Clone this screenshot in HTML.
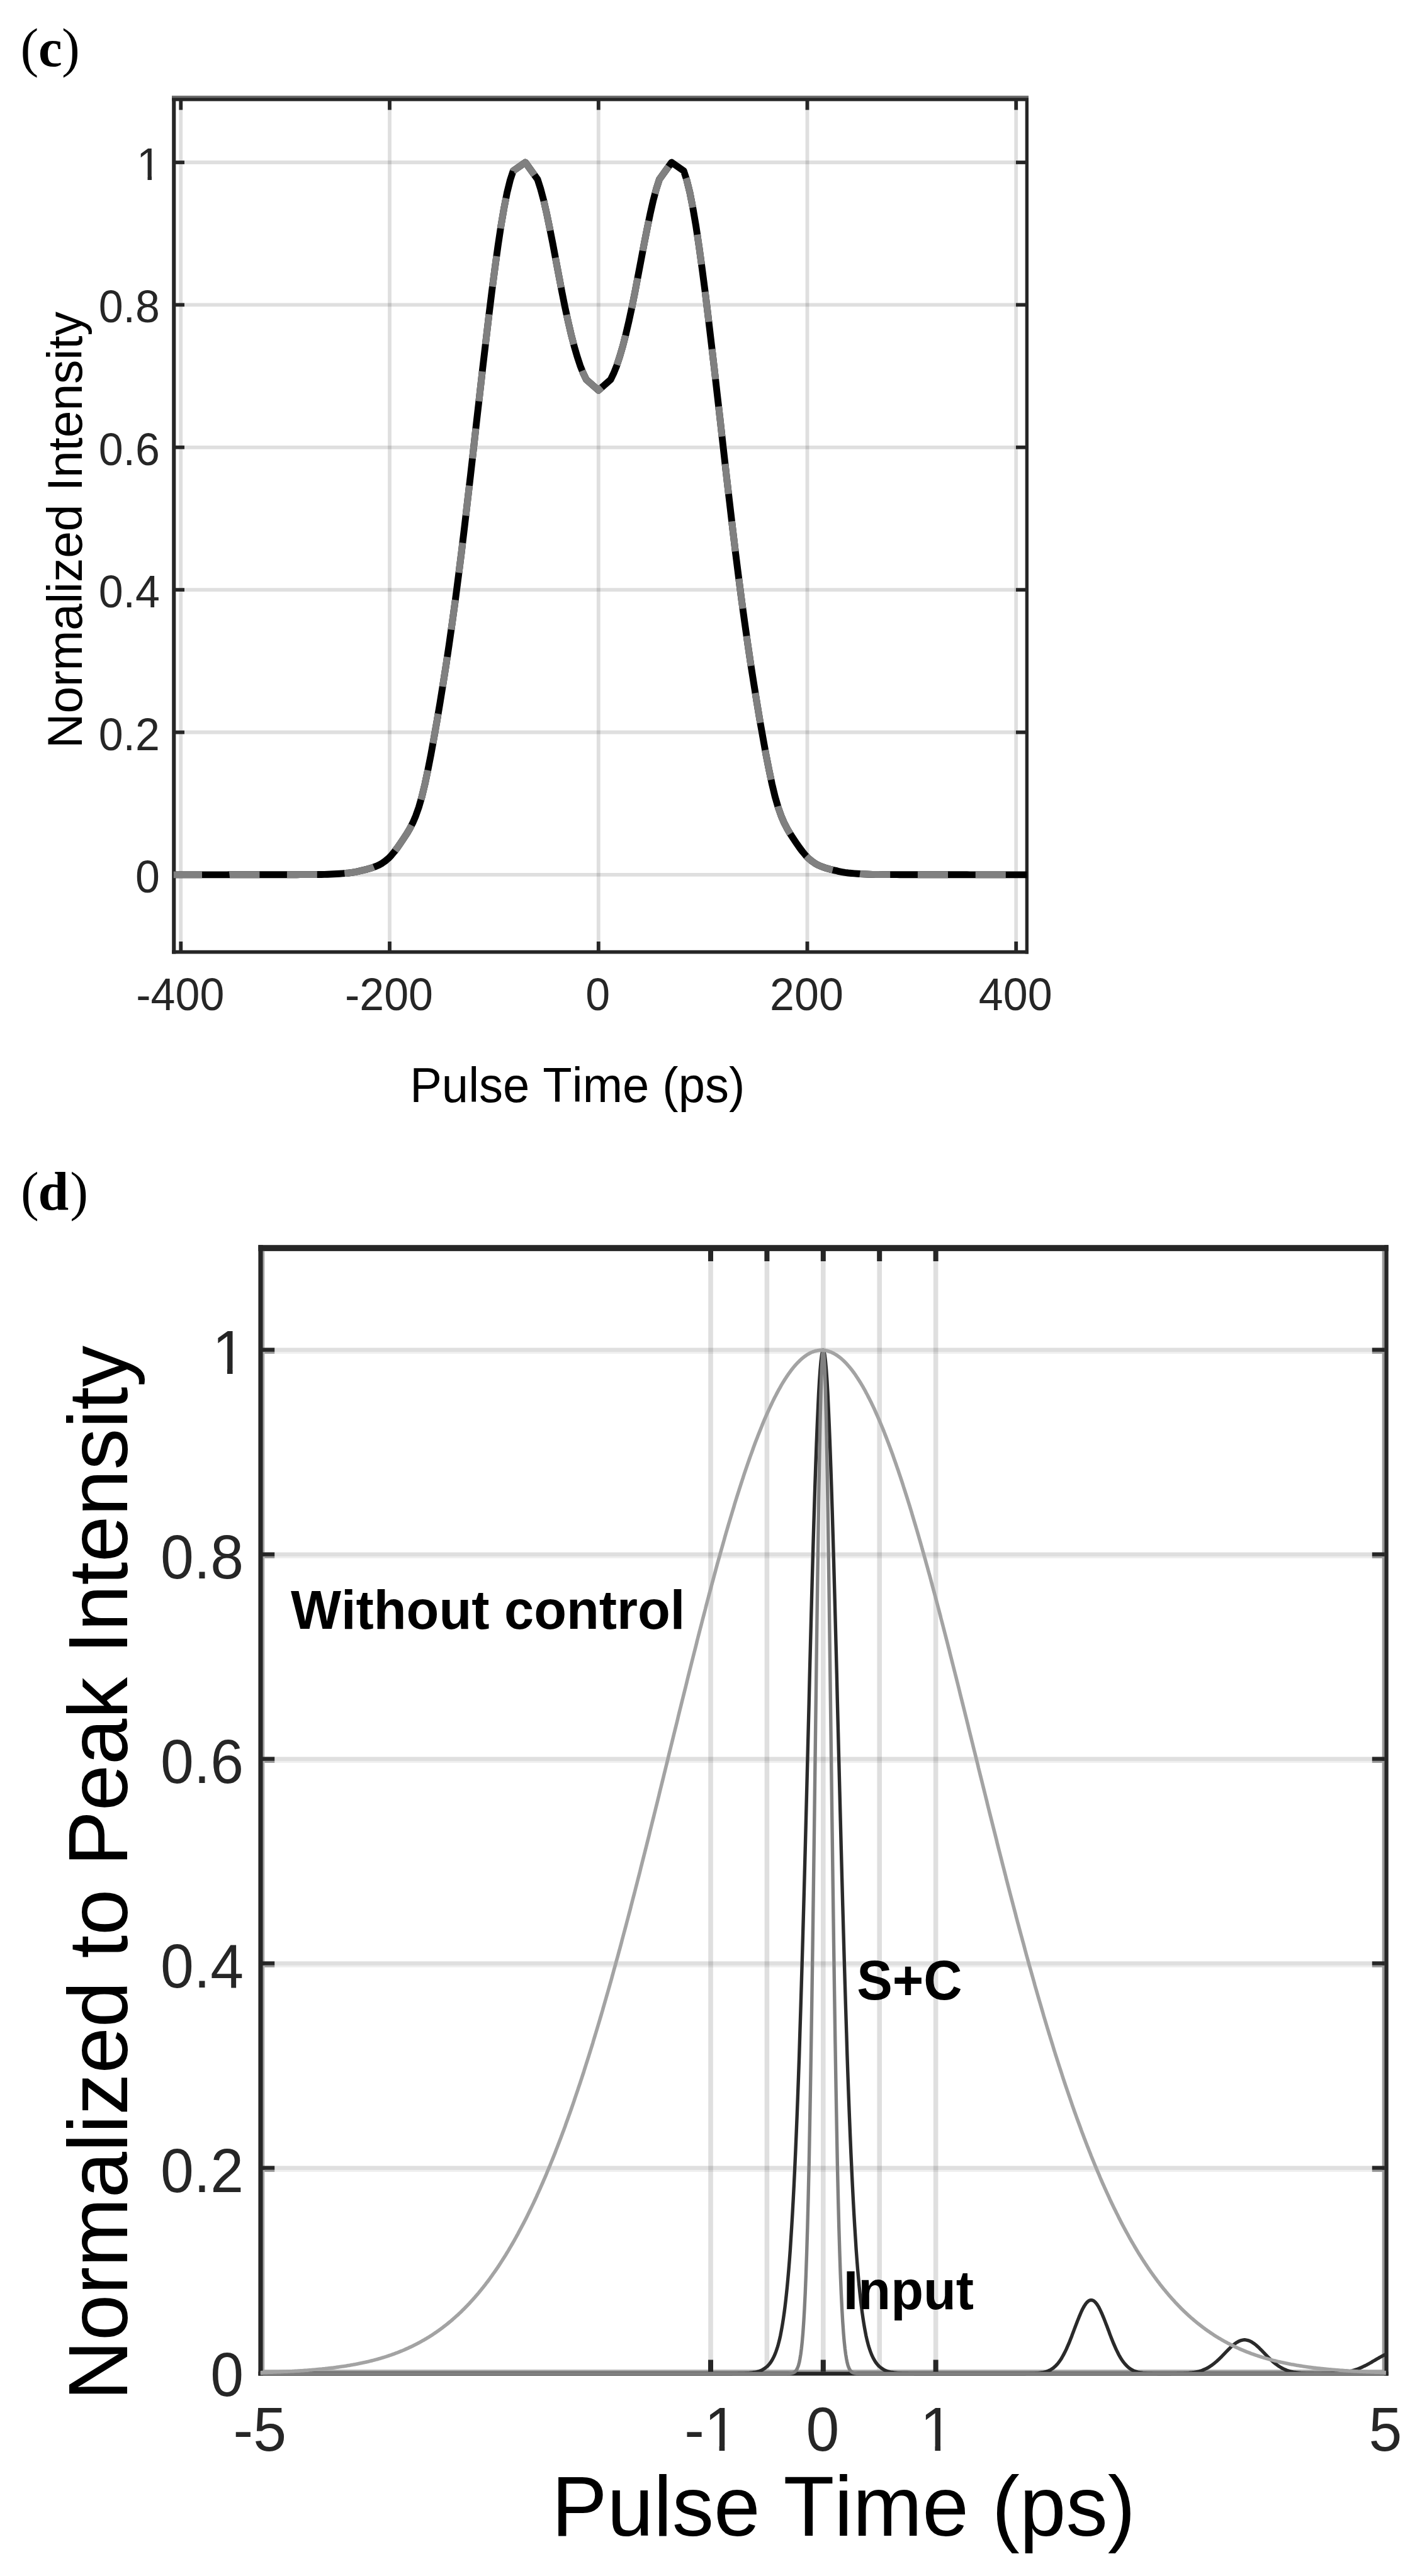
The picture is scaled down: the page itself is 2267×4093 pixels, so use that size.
<!DOCTYPE html>
<html><head><meta charset="utf-8"><title>Figure</title>
<style>
html,body{margin:0;padding:0;background:#fff;}
body{width:2267px;height:4093px;overflow:hidden;}
svg{display:block;}
text{font-family:"Liberation Sans",sans-serif;fill:#262626;font-kerning:none;}
.tc{font-size:70.0px;}
.lc{font-size:76.0px;fill:#000;}
.lc2{font-size:76.6px;fill:#000;}
.ld2{font-size:131.7px;fill:#000;}
.td{font-size:95.0px;}
.ld{font-size:132.5px;fill:#000;}
.an{font-size:84.8px;font-weight:bold;fill:#000;}
.pl{font-family:"Liberation Serif",serif;fill:#000;}
.pp{font-size:86.5px;font-weight:normal;}
.pb{font-size:87.5px;font-weight:bold;}
.pc{font-size:85px;font-weight:bold;}
</style></head><body>
<svg width="2267" height="4093" viewBox="0 0 2267 4093">
<defs><clipPath id="clipd"><rect x="410.4" y="1978" width="1795.2" height="1796.7"/></clipPath>
<clipPath id="k0"><polygon points="215.1,232.6 258.0,232.6 258.0,279.8 241.0,279.8 241.0,288.0 234.5,288.0 234.5,279.8 215.1,279.8"/></clipPath><clipPath id="k1"><polygon points="1058.9,3821.8 1173.7,3821.8 1173.7,3886.0 1151.3,3886.0 1151.3,3896.2 1142.6,3896.2 1142.6,3886.0 1058.9,3886.0"/></clipPath><clipPath id="k2"><polygon points="1401.7,3821.8 1516.5,3821.8 1516.5,3886.0 1494.1,3886.0 1494.1,3896.2 1485.4,3896.2 1485.4,3886.0 1401.7,3886.0"/></clipPath><clipPath id="k3"><polygon points="335.2,2110.9 392.0,2110.9 392.0,2175.1 369.6,2175.1 369.6,2185.3 360.9,2185.3 360.9,2175.1 335.2,2175.1"/></clipPath></defs>
<rect width="2267" height="4093" fill="#fff"/>
<text y="105" class="pl"><tspan x="32.6" class="pp">(</tspan><tspan x="61" class="pc">c</tspan><tspan x="98.1" class="pp">)</tspan></text>
<line x1="287.3" y1="160" x2="287.3" y2="1510" stroke="#262626" stroke-opacity="0.15" stroke-width="5.8"/>
<line x1="619.0" y1="160" x2="619.0" y2="1510" stroke="#262626" stroke-opacity="0.15" stroke-width="5.8"/>
<line x1="950.8" y1="160" x2="950.8" y2="1510" stroke="#262626" stroke-opacity="0.15" stroke-width="5.8"/>
<line x1="1282.5" y1="160" x2="1282.5" y2="1510" stroke="#262626" stroke-opacity="0.15" stroke-width="5.8"/>
<line x1="1614.2" y1="160" x2="1614.2" y2="1510" stroke="#262626" stroke-opacity="0.15" stroke-width="5.8"/>
<line x1="279" y1="1389.9" x2="1629" y2="1389.9" stroke="#262626" stroke-opacity="0.15" stroke-width="5.8"/>
<line x1="279" y1="1163.5" x2="1629" y2="1163.5" stroke="#262626" stroke-opacity="0.15" stroke-width="5.8"/>
<line x1="279" y1="937.1" x2="1629" y2="937.1" stroke="#262626" stroke-opacity="0.15" stroke-width="5.8"/>
<line x1="279" y1="710.8" x2="1629" y2="710.8" stroke="#262626" stroke-opacity="0.15" stroke-width="5.8"/>
<line x1="279" y1="484.4" x2="1629" y2="484.4" stroke="#262626" stroke-opacity="0.15" stroke-width="5.8"/>
<line x1="279" y1="258.0" x2="1629" y2="258.0" stroke="#262626" stroke-opacity="0.15" stroke-width="5.8"/>
<rect x="273.2" y="154.8" width="1360.8" height="5.9" fill="#262626"/>
<rect x="273.2" y="152" width="6.1" height="1363.5" fill="#262626"/>
<rect x="1628.7" y="152" width="5.3" height="1363.5" fill="#262626"/>
<rect x="273.2" y="152" width="1360.8" height="3.4" fill="#6e6e6e"/>
<rect x="273.2" y="1509.8" width="1360.8" height="5.7" fill="#262626"/>
<rect x="284.4" y="160" width="5.8" height="14.6" fill="#262626"/>
<rect x="284.4" y="1496" width="5.8" height="14" fill="#262626"/>
<rect x="616.1" y="160" width="5.8" height="14.6" fill="#262626"/>
<rect x="616.1" y="1496" width="5.8" height="14" fill="#262626"/>
<rect x="947.9" y="160" width="5.8" height="14.6" fill="#262626"/>
<rect x="947.9" y="1496" width="5.8" height="14" fill="#262626"/>
<rect x="1279.6" y="160" width="5.8" height="14.6" fill="#262626"/>
<rect x="1279.6" y="1496" width="5.8" height="14" fill="#262626"/>
<rect x="1611.3" y="160" width="5.8" height="14.6" fill="#262626"/>
<rect x="1611.3" y="1496" width="5.8" height="14" fill="#262626"/>
<rect x="279" y="1387.1" width="14" height="5.7" fill="#262626"/>
<rect x="1614" y="1387.1" width="15" height="5.7" fill="#262626"/>
<rect x="279" y="1160.7" width="14" height="5.7" fill="#262626"/>
<rect x="1614" y="1160.7" width="15" height="5.7" fill="#262626"/>
<rect x="279" y="934.3" width="14" height="5.7" fill="#262626"/>
<rect x="1614" y="934.3" width="15" height="5.7" fill="#262626"/>
<rect x="279" y="707.9" width="14" height="5.7" fill="#262626"/>
<rect x="1614" y="707.9" width="15" height="5.7" fill="#262626"/>
<rect x="279" y="481.5" width="14" height="5.7" fill="#262626"/>
<rect x="1614" y="481.5" width="15" height="5.7" fill="#262626"/>
<rect x="279" y="255.2" width="14" height="5.7" fill="#262626"/>
<rect x="1614" y="255.2" width="15" height="5.7" fill="#262626"/>
<path d="M275.7,1389.9 L283.2,1389.9 L288.0,1389.9 L292.8,1389.9 L297.7,1389.9 L302.5,1389.9 L307.4,1389.9 L312.2,1389.9 L317.0,1389.9 L321.9,1389.9 L326.7,1389.9 L331.5,1389.9 L336.4,1389.9 L341.2,1389.9 L346.1,1389.9 L350.9,1389.9 L355.7,1389.9 L360.6,1389.9 L365.4,1389.8 L370.2,1389.8 L375.1,1389.8 L379.9,1389.8 L384.8,1389.8 L389.6,1389.8 L394.4,1389.8 L399.3,1389.8 L404.1,1389.8 L408.9,1389.8 L413.8,1389.8 L418.6,1389.8 L423.5,1389.8 L428.3,1389.8 L433.1,1389.7 L438.0,1389.7 L442.8,1389.7 L447.6,1389.7 L452.5,1389.7 L457.3,1389.7 L462.2,1389.7 L467.0,1389.7 L471.8,1389.7 L476.7,1389.6 L481.5,1389.6 L486.3,1389.6 L491.2,1389.6 L496.0,1389.6 L500.9,1389.6 L505.7,1389.5 L510.5,1389.5 L515.4,1389.4 L520.2,1389.2 L525.0,1389.0 L529.9,1388.8 L534.7,1388.5 L539.6,1388.2 L544.4,1387.9 L549.2,1387.5 L554.1,1387.0 L558.9,1386.4 L563.7,1385.6 L568.6,1384.7 L573.4,1383.3 L578.3,1382.3 L583.1,1381.1 L587.9,1379.7 L592.8,1378.2 L597.6,1376.4 L602.4,1374.2 L607.3,1371.4 L612.1,1368.0 L617.0,1363.9 L621.8,1358.9 L626.6,1353.1 L631.5,1346.6 L636.3,1339.7 L641.1,1332.5 L646.0,1325.1 L650.8,1317.0 L655.7,1307.6 L660.5,1296.3 L665.3,1282.7 L670.2,1265.9 L675.0,1246.0 L679.8,1223.3 L684.7,1198.5 L689.5,1171.9 L694.4,1144.3 L699.2,1115.6 L704.0,1085.9 L708.9,1054.9 L713.7,1022.5 L718.5,988.7 L723.4,953.2 L728.2,916.2 L733.1,877.5 L737.9,837.5 L742.7,796.4 L747.6,754.4 L752.4,712.0 L757.2,669.2 L762.1,626.5 L766.9,584.2 L771.8,542.6 L776.6,502.0 L781.4,462.9 L786.3,425.6 L791.1,390.7 L795.9,358.7 L800.8,330.3 L805.6,305.9 L810.5,286.1 L815.3,271.4 L834.6,258.0 L854.0,285.0 L858.8,300.0 L863.7,318.3 L868.5,339.4 L873.3,362.6 L878.2,387.3 L883.0,412.8 L887.9,438.5 L892.7,463.7 L897.5,487.7 L902.4,510.2 L907.2,530.8 L912.0,549.5 L916.9,566.3 L921.7,580.9 L926.6,593.2 L931.4,603.2 L950.8,620.2 L970.1,603.2 L974.9,593.2 L979.8,580.9 L984.6,566.3 L989.5,549.5 L994.3,530.8 L999.1,510.2 L1004.0,487.7 L1008.8,463.7 L1013.6,438.5 L1018.5,412.8 L1023.3,387.3 L1028.2,362.6 L1033.0,339.4 L1037.8,318.3 L1042.7,300.0 L1047.5,285.0 L1066.9,258.0 L1086.2,271.4 L1091.0,286.1 L1095.9,305.9 L1100.7,330.3 L1105.6,358.7 L1110.4,390.7 L1115.2,425.6 L1120.1,462.9 L1124.9,502.0 L1129.7,542.6 L1134.6,584.2 L1139.4,626.5 L1144.3,669.2 L1149.1,712.0 L1153.9,754.4 L1158.8,796.4 L1163.6,837.5 L1168.4,877.5 L1173.3,916.2 L1178.1,953.2 L1183.0,988.7 L1187.8,1022.5 L1192.6,1054.9 L1197.5,1085.9 L1202.3,1115.6 L1207.1,1144.3 L1212.0,1171.9 L1216.8,1198.5 L1221.7,1223.3 L1226.5,1246.0 L1231.3,1265.9 L1236.2,1282.7 L1241.0,1296.3 L1245.8,1307.6 L1250.7,1317.0 L1255.5,1325.1 L1260.4,1332.5 L1265.2,1339.7 L1270.0,1346.6 L1274.9,1353.1 L1279.7,1358.9 L1284.5,1363.9 L1289.4,1368.0 L1294.2,1371.4 L1299.1,1374.2 L1303.9,1376.4 L1308.7,1378.2 L1313.6,1379.7 L1318.4,1381.1 L1323.2,1382.3 L1328.1,1383.3 L1332.9,1384.7 L1337.8,1385.6 L1342.6,1386.4 L1347.4,1387.0 L1352.3,1387.5 L1357.1,1387.9 L1361.9,1388.2 L1366.8,1388.5 L1371.6,1388.8 L1376.5,1389.0 L1381.3,1389.2 L1386.1,1389.4 L1391.0,1389.5 L1395.8,1389.5 L1400.6,1389.6 L1405.5,1389.6 L1410.3,1389.6 L1415.2,1389.6 L1420.0,1389.6 L1424.8,1389.6 L1429.7,1389.7 L1434.5,1389.7 L1439.3,1389.7 L1444.2,1389.7 L1449.0,1389.7 L1453.9,1389.7 L1458.7,1389.7 L1463.5,1389.7 L1468.4,1389.7 L1473.2,1389.8 L1478.0,1389.8 L1482.9,1389.8 L1487.7,1389.8 L1492.6,1389.8 L1497.4,1389.8 L1502.2,1389.8 L1507.1,1389.8 L1511.9,1389.8 L1516.7,1389.8 L1521.6,1389.8 L1526.4,1389.8 L1531.3,1389.8 L1536.1,1389.8 L1540.9,1389.9 L1545.8,1389.9 L1550.6,1389.9 L1555.4,1389.9 L1560.3,1389.9 L1565.1,1389.9 L1570.0,1389.9 L1574.8,1389.9 L1579.6,1389.9 L1584.5,1389.9 L1589.3,1389.9 L1594.1,1389.9 L1599.0,1389.9 L1603.8,1389.9 L1608.7,1389.9 L1613.5,1389.9 L1618.3,1389.9 L1623.2,1389.9 L1628.0,1389.9 L1631.5,1389.9" fill="none" stroke="#000" stroke-width="10.9" stroke-linejoin="round"/>
<path d="M275.7,1389.9 L283.2,1389.9 L288.0,1389.9 L292.8,1389.9 L297.7,1389.9 L302.5,1389.9 L307.4,1389.9 L312.2,1389.9 L317.0,1389.9 L321.0,1389.9 M364.5,1389.9 L365.4,1389.8 L370.2,1389.8 L375.1,1389.8 L379.9,1389.8 L384.8,1389.8 L389.6,1389.8 L394.4,1389.8 L399.3,1389.8 L404.1,1389.8 L408.9,1389.8 L412.4,1389.8 M455.9,1389.7 L457.3,1389.7 L462.2,1389.7 L467.0,1389.7 L471.8,1389.7 L476.7,1389.6 L481.5,1389.6 L486.3,1389.6 L491.2,1389.6 L496.0,1389.6 L500.9,1389.6 L503.8,1389.6 M547.3,1387.7 L549.2,1387.5 L554.1,1387.0 L558.9,1386.4 L563.7,1385.6 L568.6,1384.7 L573.4,1383.3 L578.3,1382.3 L583.1,1381.1 L587.9,1379.7 L592.8,1378.2 L594.0,1377.7 M627.8,1351.5 L631.5,1346.6 L636.3,1339.7 L641.1,1332.5 L646.0,1325.1 L650.8,1317.0 L653.8,1311.3 M668.8,1270.5 L670.2,1265.9 L675.0,1246.0 L679.7,1223.9 M687.8,1181.1 L689.5,1171.9 L694.4,1144.3 L696.1,1134.0 M703.2,1091.0 L704.0,1085.9 L708.9,1054.9 L710.5,1043.7 M716.8,1000.6 L718.5,988.7 L723.4,953.2 L723.4,953.2 M729.0,910.0 L733.1,877.5 L734.9,862.5 M740.0,819.3 L742.7,796.4 L745.6,771.7 M750.5,728.5 L752.4,712.0 L755.9,680.9 M760.8,637.6 L762.1,626.5 L766.2,590.1 M771.3,546.8 L771.8,542.6 L776.6,502.0 L776.9,499.3 M782.4,455.5 L786.3,425.6 L788.8,407.0 M795.3,363.0 L795.9,358.7 L800.8,330.3 L803.8,314.9 M815.1,272.0 L815.3,271.4 L834.6,258.0 L849.0,278.1 M863.9,319.2 L868.5,339.4 L873.3,362.6 L874.1,366.5 M882.4,409.6 L883.0,412.8 L887.9,438.5 L891.4,457.1 M900.2,500.2 L902.4,510.2 L907.2,530.8 L911.5,547.2 M924.9,589.1 L926.6,593.2 L931.4,603.2 L950.8,620.2 L956.0,615.6 M980.1,579.7 L984.6,566.3 L989.5,549.5 L993.7,533.0 M1003.5,489.8 L1004.0,487.7 L1008.8,463.7 L1012.9,442.1 M1021.2,398.6 L1023.3,387.3 L1028.2,362.6 L1030.6,350.8 M1040.6,307.7 L1042.7,300.0 L1047.5,285.0 L1062.0,264.7 M1090.0,283.0 L1091.0,286.1 L1095.9,305.9 L1100.6,329.8 M1107.7,372.8 L1110.4,390.7 L1114.5,420.3 M1120.2,463.6 L1124.9,502.0 L1126.0,511.3 M1131.1,554.7 L1134.6,584.2 L1136.7,602.5 M1141.6,645.9 L1144.3,669.2 L1147.0,693.7 M1152.0,737.2 L1153.9,754.4 L1157.4,784.9 M1162.5,828.4 L1163.6,837.5 L1168.3,876.1 M1173.7,919.5 L1178.1,953.2 L1180.0,967.1 M1186.1,1010.5 L1187.8,1022.5 L1192.6,1054.9 L1193.1,1058.0 M1200.0,1101.2 L1202.3,1115.6 L1207.1,1144.3 L1207.9,1148.6 M1215.6,1191.7 L1216.8,1198.5 L1221.7,1223.3 L1225.0,1238.8 M1235.8,1281.2 L1236.2,1282.7 L1241.0,1296.3 L1245.8,1307.6 L1250.7,1317.0 L1255.4,1324.9 M1281.1,1360.3 L1284.5,1363.9 L1289.4,1368.0 L1294.2,1371.4 L1299.1,1374.2 L1303.9,1376.4 L1308.7,1378.2 L1313.6,1379.7 L1318.4,1381.1 L1322.9,1382.2 M1366.1,1388.4 L1366.8,1388.5 L1371.6,1388.8 L1376.5,1389.0 L1381.3,1389.2 L1386.1,1389.4 L1391.0,1389.5 L1395.8,1389.5 L1400.6,1389.6 L1405.5,1389.6 L1410.3,1389.6 L1414.2,1389.6 M1457.9,1389.7 L1458.7,1389.7 L1463.5,1389.7 L1468.4,1389.7 L1473.2,1389.8 L1478.0,1389.8 L1482.9,1389.8 L1487.7,1389.8 L1492.6,1389.8 L1497.4,1389.8 L1502.2,1389.8 L1506.0,1389.8 M1549.7,1389.9 L1550.6,1389.9 L1555.4,1389.9 L1560.3,1389.9 L1565.1,1389.9 L1570.0,1389.9 L1574.8,1389.9 L1579.6,1389.9 L1584.5,1389.9 L1589.3,1389.9 L1594.1,1389.9 L1597.8,1389.9" fill="none" stroke="#808080" stroke-width="10.9" stroke-linejoin="round"/>
<text transform="translate(286.3,1605.2) scale(1,1.0407)" text-anchor="middle" class="tc">-400</text>
<text transform="translate(618.0,1605.2) scale(1,1.0407)" text-anchor="middle" class="tc">-200</text>
<text transform="translate(949.8,1605.2) scale(1,1.0407)" text-anchor="middle" class="tc">0</text>
<text transform="translate(1281.5,1605.2) scale(1,1.0407)" text-anchor="middle" class="tc">200</text>
<text transform="translate(1613.2,1605.2) scale(1,1.0407)" text-anchor="middle" class="tc">400</text>
<text transform="translate(254.0,1417.9) scale(1,1.0407)" text-anchor="end" class="tc">0</text>
<text transform="translate(254.0,1191.5) scale(1,1.0407)" text-anchor="end" class="tc">0.2</text>
<text transform="translate(254.0,965.1) scale(1,1.0407)" text-anchor="end" class="tc">0.4</text>
<text transform="translate(254.0,738.8) scale(1,1.0407)" text-anchor="end" class="tc">0.6</text>
<text transform="translate(254.0,512.4) scale(1,1.0407)" text-anchor="end" class="tc">0.8</text>
<g clip-path="url(#k0)"><text transform="translate(256.0,286.0) scale(1,1.0407)" text-anchor="end" class="tc">1</text></g>
<text transform="translate(917.2,1750.5) scale(1,1.02)" text-anchor="middle" class="lc">Pulse Time (ps)</text>
<text transform="translate(129.9,842.0) rotate(-90) scale(1,1.02)" text-anchor="middle" class="lc2">Normalized Intensity</text>
<text y="1922.4" class="pl"><tspan x="32.9" class="pp">(</tspan><tspan x="60.4" class="pb">d</tspan><tspan x="111.2" class="pp">)</tspan></text>
<line x1="1129.0" y1="1988" x2="1129.0" y2="3766" stroke="#262626" stroke-opacity="0.15" stroke-width="7.6"/>
<line x1="1218.4" y1="1988" x2="1218.4" y2="3766" stroke="#262626" stroke-opacity="0.15" stroke-width="7.6"/>
<line x1="1307.8" y1="1988" x2="1307.8" y2="3766" stroke="#262626" stroke-opacity="0.15" stroke-width="7.6"/>
<line x1="1397.2" y1="1988" x2="1397.2" y2="3766" stroke="#262626" stroke-opacity="0.15" stroke-width="7.6"/>
<line x1="1486.6" y1="1988" x2="1486.6" y2="3766" stroke="#262626" stroke-opacity="0.15" stroke-width="7.6"/>
<rect x="420" y="3441.4" width="1776" height="6.4" fill="#262626" fill-opacity="0.15"/>
<rect x="420" y="3447.8" width="1776" height="3.1" fill="#262626" fill-opacity="0.075"/>
<rect x="420" y="3116.4" width="1776" height="6.4" fill="#262626" fill-opacity="0.15"/>
<rect x="420" y="3122.8" width="1776" height="3.1" fill="#262626" fill-opacity="0.075"/>
<rect x="420" y="2791.5" width="1776" height="6.4" fill="#262626" fill-opacity="0.15"/>
<rect x="420" y="2797.9" width="1776" height="3.1" fill="#262626" fill-opacity="0.075"/>
<rect x="420" y="2466.5" width="1776" height="6.4" fill="#262626" fill-opacity="0.15"/>
<rect x="420" y="2472.9" width="1776" height="3.1" fill="#262626" fill-opacity="0.075"/>
<rect x="420" y="2141.5" width="1776" height="6.4" fill="#262626" fill-opacity="0.15"/>
<rect x="420" y="2147.9" width="1776" height="3.1" fill="#262626" fill-opacity="0.075"/>
<rect x="410.4" y="1978.2" width="1795.3" height="9.7" fill="#262626"/>
<rect x="417.7" y="3765.2" width="1781.6" height="3.1" fill="#a6a6a6"/>
<rect x="410.4" y="3768.3" width="1795.3" height="6.4" fill="#262626"/>
<rect x="417.7" y="1987.9" width="2.6" height="1780.4" fill="#a8a8a8"/>
<rect x="410.4" y="1978.2" width="7.3" height="1796.5" fill="#262626"/>
<rect x="2195.7" y="1987.9" width="3.6" height="1780.4" fill="#999"/>
<rect x="2199.3" y="1978.2" width="6.4" height="1796.5" fill="#262626"/>
<rect x="1125.0" y="1987" width="8" height="17" fill="#262626"/>
<rect x="1125.0" y="3749.5" width="8" height="19" fill="#262626"/>
<rect x="1214.4" y="1987" width="8" height="17" fill="#262626"/>
<rect x="1303.8" y="1987" width="8" height="17" fill="#262626"/>
<rect x="1303.8" y="3749.5" width="8" height="19" fill="#262626"/>
<rect x="1393.2" y="1987" width="8" height="17" fill="#262626"/>
<rect x="1482.6" y="1987" width="8" height="17" fill="#262626"/>
<rect x="1482.6" y="3749.5" width="8" height="19" fill="#262626"/>
<rect x="417" y="3441.4" width="19.2" height="6.4" fill="#262626"/>
<rect x="420.3" y="3447.8" width="15.9" height="3.1" fill="#999"/>
<rect x="2179.8" y="3441.4" width="20" height="6.4" fill="#262626"/>
<rect x="2179.8" y="3447.8" width="16" height="3.1" fill="#999"/>
<rect x="417" y="3116.4" width="19.2" height="6.4" fill="#262626"/>
<rect x="420.3" y="3122.8" width="15.9" height="3.1" fill="#999"/>
<rect x="2179.8" y="3116.4" width="20" height="6.4" fill="#262626"/>
<rect x="2179.8" y="3122.8" width="16" height="3.1" fill="#999"/>
<rect x="417" y="2791.5" width="19.2" height="6.4" fill="#262626"/>
<rect x="420.3" y="2797.9" width="15.9" height="3.1" fill="#999"/>
<rect x="2179.8" y="2791.5" width="20" height="6.4" fill="#262626"/>
<rect x="2179.8" y="2797.9" width="16" height="3.1" fill="#999"/>
<rect x="417" y="2466.5" width="19.2" height="6.4" fill="#262626"/>
<rect x="420.3" y="2472.9" width="15.9" height="3.1" fill="#999"/>
<rect x="2179.8" y="2466.5" width="20" height="6.4" fill="#262626"/>
<rect x="2179.8" y="2472.9" width="16" height="3.1" fill="#999"/>
<rect x="417" y="2141.5" width="19.2" height="6.4" fill="#262626"/>
<rect x="420.3" y="2147.9" width="15.9" height="3.1" fill="#999"/>
<rect x="2179.8" y="2141.5" width="20" height="6.4" fill="#262626"/>
<rect x="2179.8" y="2147.9" width="16" height="3.1" fill="#999"/>
<g clip-path="url(#clipd)" fill="none" stroke-linejoin="round">
<path d="M413.8,3771.5 L415.0,3771.5 L416.2,3771.5 L417.4,3771.5 L418.6,3771.5 L419.8,3771.5 L421.0,3771.5 L422.1,3771.5 L423.3,3771.5 L424.5,3771.5 L425.7,3771.5 L426.9,3771.5 L428.1,3771.5 L429.3,3771.5 L430.5,3771.5 L431.7,3771.5 L432.9,3771.5 L434.1,3771.5 L435.3,3771.5 L436.4,3771.5 L437.6,3771.5 L438.8,3771.5 L440.0,3771.5 L441.2,3771.5 L442.4,3771.5 L443.6,3771.5 L444.8,3771.5 L446.0,3771.5 L447.2,3771.5 L448.4,3771.5 L449.6,3771.5 L450.8,3771.5 L451.9,3771.5 L453.1,3771.5 L454.3,3771.5 L455.5,3771.5 L456.7,3771.5 L457.9,3771.5 L459.1,3771.5 L460.3,3771.5 L461.5,3771.5 L462.7,3771.5 L463.9,3771.5 L465.1,3771.5 L466.2,3771.5 L467.4,3771.5 L468.6,3771.5 L469.8,3771.5 L471.0,3771.5 L472.2,3771.5 L473.4,3771.5 L474.6,3771.5 L475.8,3771.5 L477.0,3771.5 L478.2,3771.5 L479.4,3771.5 L480.6,3771.5 L481.7,3771.5 L482.9,3771.5 L484.1,3771.5 L485.3,3771.5 L486.5,3771.5 L487.7,3771.5 L488.9,3771.5 L490.1,3771.5 L491.3,3771.5 L492.5,3771.5 L493.7,3771.5 L494.9,3771.5 L496.0,3771.5 L497.2,3771.5 L498.4,3771.5 L499.6,3771.5 L500.8,3771.5 L502.0,3771.5 L503.2,3771.5 L504.4,3771.5 L505.6,3771.5 L506.8,3771.5 L508.0,3771.5 L509.2,3771.5 L510.4,3771.5 L511.5,3771.5 L512.7,3771.5 L513.9,3771.5 L515.1,3771.5 L516.3,3771.5 L517.5,3771.5 L518.7,3771.5 L519.9,3771.5 L521.1,3771.5 L522.3,3771.5 L523.5,3771.5 L524.7,3771.5 L525.8,3771.5 L527.0,3771.5 L528.2,3771.5 L529.4,3771.5 L530.6,3771.5 L531.8,3771.5 L533.0,3771.5 L534.2,3771.5 L535.4,3771.5 L536.6,3771.5 L537.8,3771.5 L539.0,3771.5 L540.2,3771.5 L541.3,3771.5 L542.5,3771.5 L543.7,3771.5 L544.9,3771.5 L546.1,3771.5 L547.3,3771.5 L548.5,3771.5 L549.7,3771.5 L550.9,3771.5 L552.1,3771.5 L553.3,3771.5 L554.5,3771.5 L555.6,3771.5 L556.8,3771.5 L558.0,3771.5 L559.2,3771.5 L560.4,3771.5 L561.6,3771.5 L562.8,3771.5 L564.0,3771.5 L565.2,3771.5 L566.4,3771.5 L567.6,3771.5 L568.8,3771.5 L570.0,3771.5 L571.1,3771.5 L572.3,3771.5 L573.5,3771.5 L574.7,3771.5 L575.9,3771.5 L577.1,3771.5 L578.3,3771.5 L579.5,3771.5 L580.7,3771.5 L581.9,3771.5 L583.1,3771.5 L584.3,3771.5 L585.4,3771.5 L586.6,3771.5 L587.8,3771.5 L589.0,3771.5 L590.2,3771.5 L591.4,3771.5 L592.6,3771.5 L593.8,3771.5 L595.0,3771.5 L596.2,3771.5 L597.4,3771.5 L598.6,3771.5 L599.8,3771.5 L600.9,3771.5 L602.1,3771.5 L603.3,3771.5 L604.5,3771.5 L605.7,3771.5 L606.9,3771.5 L608.1,3771.5 L609.3,3771.5 L610.5,3771.5 L611.7,3771.5 L612.9,3771.5 L614.1,3771.5 L615.2,3771.5 L616.4,3771.5 L617.6,3771.5 L618.8,3771.5 L620.0,3771.5 L621.2,3771.5 L622.4,3771.5 L623.6,3771.5 L624.8,3771.5 L626.0,3771.5 L627.2,3771.5 L628.4,3771.5 L629.6,3771.5 L630.7,3771.5 L631.9,3771.5 L633.1,3771.5 L634.3,3771.5 L635.5,3771.5 L636.7,3771.5 L637.9,3771.5 L639.1,3771.5 L640.3,3771.5 L641.5,3771.5 L642.7,3771.5 L643.9,3771.5 L645.0,3771.5 L646.2,3771.5 L647.4,3771.5 L648.6,3771.5 L649.8,3771.5 L651.0,3771.5 L652.2,3771.5 L653.4,3771.5 L654.6,3771.5 L655.8,3771.5 L657.0,3771.5 L658.2,3771.5 L659.4,3771.5 L660.5,3771.5 L661.7,3771.5 L662.9,3771.5 L664.1,3771.5 L665.3,3771.5 L666.5,3771.5 L667.7,3771.5 L668.9,3771.5 L670.1,3771.5 L671.3,3771.5 L672.5,3771.5 L673.7,3771.5 L674.8,3771.5 L676.0,3771.5 L677.2,3771.5 L678.4,3771.5 L679.6,3771.5 L680.8,3771.5 L682.0,3771.5 L683.2,3771.5 L684.4,3771.5 L685.6,3771.5 L686.8,3771.5 L688.0,3771.5 L689.2,3771.5 L690.3,3771.5 L691.5,3771.5 L692.7,3771.5 L693.9,3771.5 L695.1,3771.5 L696.3,3771.5 L697.5,3771.5 L698.7,3771.5 L699.9,3771.5 L701.1,3771.5 L702.3,3771.5 L703.5,3771.5 L704.6,3771.5 L705.8,3771.5 L707.0,3771.5 L708.2,3771.5 L709.4,3771.5 L710.6,3771.5 L711.8,3771.5 L713.0,3771.5 L714.2,3771.5 L715.4,3771.5 L716.6,3771.5 L717.8,3771.5 L719.0,3771.5 L720.1,3771.5 L721.3,3771.5 L722.5,3771.5 L723.7,3771.5 L724.9,3771.5 L726.1,3771.5 L727.3,3771.5 L728.5,3771.5 L729.7,3771.5 L730.9,3771.5 L732.1,3771.5 L733.3,3771.5 L734.4,3771.5 L735.6,3771.5 L736.8,3771.5 L738.0,3771.5 L739.2,3771.5 L740.4,3771.5 L741.6,3771.5 L742.8,3771.5 L744.0,3771.5 L745.2,3771.5 L746.4,3771.5 L747.6,3771.5 L748.8,3771.5 L749.9,3771.5 L751.1,3771.5 L752.3,3771.5 L753.5,3771.5 L754.7,3771.5 L755.9,3771.5 L757.1,3771.5 L758.3,3771.5 L759.5,3771.5 L760.7,3771.5 L761.9,3771.5 L763.1,3771.5 L764.2,3771.5 L765.4,3771.5 L766.6,3771.5 L767.8,3771.5 L769.0,3771.5 L770.2,3771.5 L771.4,3771.5 L772.6,3771.5 L773.8,3771.5 L775.0,3771.5 L776.2,3771.5 L777.4,3771.5 L778.6,3771.5 L779.7,3771.5 L780.9,3771.5 L782.1,3771.5 L783.3,3771.5 L784.5,3771.5 L785.7,3771.5 L786.9,3771.5 L788.1,3771.5 L789.3,3771.5 L790.5,3771.5 L791.7,3771.5 L792.9,3771.5 L794.0,3771.5 L795.2,3771.5 L796.4,3771.5 L797.6,3771.5 L798.8,3771.5 L800.0,3771.5 L801.2,3771.5 L802.4,3771.5 L803.6,3771.5 L804.8,3771.5 L806.0,3771.5 L807.2,3771.5 L808.4,3771.5 L809.5,3771.5 L810.7,3771.5 L811.9,3771.5 L813.1,3771.5 L814.3,3771.5 L815.5,3771.5 L816.7,3771.5 L817.9,3771.5 L819.1,3771.5 L820.3,3771.5 L821.5,3771.5 L822.7,3771.5 L823.8,3771.5 L825.0,3771.5 L826.2,3771.5 L827.4,3771.5 L828.6,3771.5 L829.8,3771.5 L831.0,3771.5 L832.2,3771.5 L833.4,3771.5 L834.6,3771.5 L835.8,3771.5 L837.0,3771.5 L838.2,3771.5 L839.3,3771.5 L840.5,3771.5 L841.7,3771.5 L842.9,3771.5 L844.1,3771.5 L845.3,3771.5 L846.5,3771.5 L847.7,3771.5 L848.9,3771.5 L850.1,3771.5 L851.3,3771.5 L852.5,3771.5 L853.6,3771.5 L854.8,3771.5 L856.0,3771.5 L857.2,3771.5 L858.4,3771.5 L859.6,3771.5 L860.8,3771.5 L862.0,3771.5 L863.2,3771.5 L864.4,3771.5 L865.6,3771.5 L866.8,3771.5 L868.0,3771.5 L869.1,3771.5 L870.3,3771.5 L871.5,3771.5 L872.7,3771.5 L873.9,3771.5 L875.1,3771.5 L876.3,3771.5 L877.5,3771.5 L878.7,3771.5 L879.9,3771.5 L881.1,3771.5 L882.3,3771.5 L883.4,3771.5 L884.6,3771.5 L885.8,3771.5 L887.0,3771.5 L888.2,3771.5 L889.4,3771.5 L890.6,3771.5 L891.8,3771.5 L893.0,3771.5 L894.2,3771.5 L895.4,3771.5 L896.6,3771.5 L897.8,3771.5 L898.9,3771.5 L900.1,3771.5 L901.3,3771.5 L902.5,3771.5 L903.7,3771.5 L904.9,3771.5 L906.1,3771.5 L907.3,3771.5 L908.5,3771.5 L909.7,3771.5 L910.9,3771.5 L912.1,3771.5 L913.2,3771.5 L914.4,3771.5 L915.6,3771.5 L916.8,3771.5 L918.0,3771.5 L919.2,3771.5 L920.4,3771.5 L921.6,3771.5 L922.8,3771.5 L924.0,3771.5 L925.2,3771.5 L926.4,3771.5 L927.6,3771.5 L928.7,3771.5 L929.9,3771.5 L931.1,3771.5 L932.3,3771.5 L933.5,3771.5 L934.7,3771.5 L935.9,3771.5 L937.1,3771.5 L938.3,3771.5 L939.5,3771.5 L940.7,3771.5 L941.9,3771.5 L943.0,3771.5 L944.2,3771.5 L945.4,3771.5 L946.6,3771.5 L947.8,3771.5 L949.0,3771.5 L950.2,3771.5 L951.4,3771.5 L952.6,3771.5 L953.8,3771.5 L955.0,3771.5 L956.2,3771.5 L957.4,3771.5 L958.5,3771.5 L959.7,3771.5 L960.9,3771.5 L962.1,3771.5 L963.3,3771.5 L964.5,3771.5 L965.7,3771.5 L966.9,3771.5 L968.1,3771.5 L969.3,3771.5 L970.5,3771.5 L971.7,3771.5 L972.8,3771.5 L974.0,3771.5 L975.2,3771.5 L976.4,3771.5 L977.6,3771.5 L978.8,3771.5 L980.0,3771.5 L981.2,3771.5 L982.4,3771.5 L983.6,3771.5 L984.8,3771.5 L986.0,3771.5 L987.2,3771.5 L988.3,3771.5 L989.5,3771.5 L990.7,3771.5 L991.9,3771.5 L993.1,3771.5 L994.3,3771.5 L995.5,3771.5 L996.7,3771.5 L997.9,3771.5 L999.1,3771.5 L1000.3,3771.5 L1001.5,3771.5 L1002.6,3771.5 L1003.8,3771.5 L1005.0,3771.5 L1006.2,3771.5 L1007.4,3771.5 L1008.6,3771.5 L1009.8,3771.5 L1011.0,3771.5 L1012.2,3771.5 L1013.4,3771.5 L1014.6,3771.5 L1015.8,3771.5 L1017.0,3771.5 L1018.1,3771.5 L1019.3,3771.5 L1020.5,3771.5 L1021.7,3771.5 L1022.9,3771.5 L1024.1,3771.5 L1025.3,3771.5 L1026.5,3771.5 L1027.7,3771.5 L1028.9,3771.5 L1030.1,3771.5 L1031.3,3771.5 L1032.4,3771.5 L1033.6,3771.5 L1034.8,3771.5 L1036.0,3771.5 L1037.2,3771.5 L1038.4,3771.5 L1039.6,3771.5 L1040.8,3771.5 L1042.0,3771.5 L1043.2,3771.5 L1044.4,3771.5 L1045.6,3771.5 L1046.8,3771.5 L1047.9,3771.5 L1049.1,3771.5 L1050.3,3771.5 L1051.5,3771.5 L1052.7,3771.5 L1053.9,3771.5 L1055.1,3771.5 L1056.3,3771.5 L1057.5,3771.5 L1058.7,3771.5 L1059.9,3771.5 L1061.1,3771.5 L1062.2,3771.5 L1063.4,3771.5 L1064.6,3771.5 L1065.8,3771.5 L1067.0,3771.5 L1068.2,3771.5 L1069.4,3771.5 L1070.6,3771.5 L1071.8,3771.5 L1073.0,3771.5 L1074.2,3771.5 L1075.4,3771.5 L1076.6,3771.5 L1077.7,3771.5 L1078.9,3771.5 L1080.1,3771.5 L1081.3,3771.5 L1082.5,3771.5 L1083.7,3771.5 L1084.9,3771.5 L1086.1,3771.5 L1087.3,3771.5 L1088.5,3771.5 L1089.7,3771.5 L1090.9,3771.5 L1092.0,3771.5 L1093.2,3771.5 L1094.4,3771.5 L1095.6,3771.5 L1096.8,3771.5 L1098.0,3771.5 L1099.2,3771.5 L1100.4,3771.5 L1101.6,3771.5 L1102.8,3771.5 L1104.0,3771.5 L1105.2,3771.5 L1106.4,3771.5 L1107.5,3771.5 L1108.7,3771.5 L1109.9,3771.5 L1111.1,3771.5 L1112.3,3771.5 L1113.5,3771.5 L1114.7,3771.5 L1115.9,3771.5 L1117.1,3771.5 L1118.3,3771.5 L1119.5,3771.5 L1120.7,3771.5 L1121.8,3771.5 L1123.0,3771.5 L1124.2,3771.5 L1125.4,3771.5 L1126.6,3771.5 L1127.8,3771.5 L1129.0,3771.5 L1130.2,3771.5 L1131.4,3771.5 L1132.6,3771.5 L1133.8,3771.5 L1135.0,3771.5 L1136.2,3771.5 L1137.3,3771.5 L1138.5,3771.5 L1139.7,3771.5 L1140.9,3771.5 L1142.1,3771.5 L1143.3,3771.5 L1144.5,3771.5 L1145.7,3771.5 L1146.9,3771.5 L1148.1,3771.5 L1149.3,3771.5 L1150.5,3771.5 L1151.6,3771.5 L1152.8,3771.5 L1154.0,3771.5 L1155.2,3771.5 L1156.4,3771.5 L1157.6,3771.5 L1158.8,3771.5 L1160.0,3771.5 L1161.2,3771.5 L1162.4,3771.5 L1163.6,3771.4 L1164.8,3771.4 L1166.0,3771.4 L1167.1,3771.4 L1168.3,3771.4 L1169.5,3771.4 L1170.7,3771.4 L1171.9,3771.4 L1173.1,3771.3 L1174.3,3771.3 L1175.5,3771.3 L1176.7,3771.3 L1177.9,3771.2 L1179.1,3771.2 L1180.3,3771.2 L1181.4,3771.1 L1182.6,3771.1 L1183.8,3771.0 L1185.0,3771.0 L1186.2,3770.9 L1187.4,3770.8 L1188.6,3770.7 L1189.8,3770.6 L1191.0,3770.5 L1192.2,3770.4 L1193.4,3770.2 L1194.6,3770.1 L1195.8,3769.9 L1196.9,3769.7 L1198.1,3769.5 L1199.3,3769.3 L1200.5,3769.1 L1201.7,3768.8 L1202.9,3768.5 L1204.1,3768.1 L1205.3,3767.8 L1206.5,3767.4 L1207.7,3766.9 L1208.9,3766.4 L1210.1,3765.9 L1211.2,3765.3 L1212.4,3764.6 L1213.6,3763.9 L1214.8,3763.1 L1216.0,3762.3 L1217.2,3761.3 L1218.4,3760.3 L1219.6,3759.2 L1220.8,3757.9 L1222.0,3756.5 L1223.2,3755.1 L1224.4,3753.4 L1225.6,3751.6 L1226.7,3749.7 L1227.9,3747.5 L1229.1,3745.2 L1230.3,3742.6 L1231.5,3739.7 L1232.7,3736.6 L1233.9,3733.2 L1235.1,3729.5 L1236.3,3725.4 L1237.5,3720.9 L1238.7,3716.0 L1239.9,3710.6 L1241.0,3704.7 L1242.2,3698.2 L1243.4,3691.1 L1244.6,3683.4 L1245.8,3675.0 L1247.0,3665.8 L1248.2,3655.7 L1249.4,3644.8 L1250.6,3633.0 L1251.8,3620.1 L1253.0,3606.2 L1254.2,3591.1 L1255.4,3574.8 L1256.5,3557.2 L1257.7,3538.3 L1258.9,3518.1 L1260.1,3496.3 L1261.3,3473.1 L1262.5,3448.4 L1263.7,3422.0 L1264.9,3394.1 L1266.1,3364.5 L1267.3,3333.3 L1268.5,3300.5 L1269.7,3266.1 L1270.8,3230.0 L1272.0,3192.5 L1273.2,3153.4 L1274.4,3112.9 L1275.6,3071.2 L1276.8,3028.2 L1278.0,2984.1 L1279.2,2939.1 L1280.4,2893.3 L1281.6,2847.0 L1282.8,2800.2 L1284.0,2753.3 L1285.2,2706.4 L1286.3,2659.7 L1287.5,2613.6 L1288.7,2568.2 L1289.9,2523.9 L1291.1,2480.8 L1292.3,2439.3 L1293.5,2399.6 L1294.7,2362.0 L1295.9,2326.7 L1297.1,2294.0 L1298.3,2264.0 L1299.5,2237.0 L1300.6,2213.2 L1301.8,2192.8 L1303.0,2175.9 L1304.2,2162.6 L1305.4,2153.0 L1306.6,2147.2 L1307.8,2145.3 L1309.0,2147.2 L1310.2,2153.0 L1311.4,2162.6 L1312.6,2175.9 L1313.8,2192.8 L1315.0,2213.2 L1316.1,2237.0 L1317.3,2264.0 L1318.5,2294.0 L1319.7,2326.7 L1320.9,2362.0 L1322.1,2399.6 L1323.3,2439.3 L1324.5,2480.8 L1325.7,2523.9 L1326.9,2568.2 L1328.1,2613.6 L1329.3,2659.7 L1330.4,2706.4 L1331.6,2753.3 L1332.8,2800.2 L1334.0,2847.0 L1335.2,2893.3 L1336.4,2939.1 L1337.6,2984.1 L1338.8,3028.2 L1340.0,3071.2 L1341.2,3112.9 L1342.4,3153.4 L1343.6,3192.5 L1344.8,3230.0 L1345.9,3266.1 L1347.1,3300.5 L1348.3,3333.3 L1349.5,3364.5 L1350.7,3394.1 L1351.9,3422.0 L1353.1,3448.4 L1354.3,3473.1 L1355.5,3496.3 L1356.7,3518.1 L1357.9,3538.3 L1359.1,3557.2 L1360.2,3574.8 L1361.4,3591.1 L1362.6,3606.2 L1363.8,3620.1 L1365.0,3633.0 L1366.2,3644.8 L1367.4,3655.7 L1368.6,3665.8 L1369.8,3675.0 L1371.0,3683.4 L1372.2,3691.1 L1373.4,3698.2 L1374.6,3704.7 L1375.7,3710.6 L1376.9,3716.0 L1378.1,3720.9 L1379.3,3725.4 L1380.5,3729.5 L1381.7,3733.2 L1382.9,3736.6 L1384.1,3739.7 L1385.3,3742.6 L1386.5,3745.2 L1387.7,3747.5 L1388.9,3749.7 L1390.0,3751.6 L1391.2,3753.4 L1392.4,3755.1 L1393.6,3756.5 L1394.8,3757.9 L1396.0,3759.2 L1397.2,3760.3 L1398.4,3761.3 L1399.6,3762.3 L1400.8,3763.1 L1402.0,3763.9 L1403.2,3764.6 L1404.4,3765.3 L1405.5,3765.9 L1406.7,3766.4 L1407.9,3766.9 L1409.1,3767.4 L1410.3,3767.8 L1411.5,3768.1 L1412.7,3768.5 L1413.9,3768.8 L1415.1,3769.1 L1416.3,3769.3 L1417.5,3769.5 L1418.7,3769.7 L1419.8,3769.9 L1421.0,3770.1 L1422.2,3770.2 L1423.4,3770.4 L1424.6,3770.5 L1425.8,3770.6 L1427.0,3770.7 L1428.2,3770.8 L1429.4,3770.9 L1430.6,3771.0 L1431.8,3771.0 L1433.0,3771.1 L1434.2,3771.1 L1435.3,3771.2 L1436.5,3771.2 L1437.7,3771.2 L1438.9,3771.3 L1440.1,3771.3 L1441.3,3771.3 L1442.5,3771.3 L1443.7,3771.4 L1444.9,3771.4 L1446.1,3771.4 L1447.3,3771.4 L1448.5,3771.4 L1449.6,3771.4 L1450.8,3771.4 L1452.0,3771.4 L1453.2,3771.5 L1454.4,3771.5 L1455.6,3771.5 L1456.8,3771.5 L1458.0,3771.5 L1459.2,3771.5 L1460.4,3771.5 L1461.6,3771.5 L1462.8,3771.5 L1464.0,3771.5 L1465.1,3771.5 L1466.3,3771.5 L1467.5,3771.5 L1468.7,3771.5 L1469.9,3771.5 L1471.1,3771.5 L1472.3,3771.5 L1473.5,3771.5 L1474.7,3771.5 L1475.9,3771.5 L1477.1,3771.5 L1478.3,3771.5 L1479.4,3771.5 L1480.6,3771.5 L1481.8,3771.5 L1483.0,3771.5 L1484.2,3771.5 L1485.4,3771.5 L1486.6,3771.5 L1487.8,3771.5 L1489.0,3771.5 L1490.2,3771.5 L1491.4,3771.5 L1492.6,3771.5 L1493.8,3771.5 L1494.9,3771.5 L1496.1,3771.5 L1497.3,3771.5 L1498.5,3771.5 L1499.7,3771.5 L1500.9,3771.5 L1502.1,3771.5 L1503.3,3771.5 L1504.5,3771.5 L1505.7,3771.5 L1506.9,3771.5 L1508.1,3771.5 L1509.2,3771.5 L1510.4,3771.5 L1511.6,3771.5 L1512.8,3771.5 L1514.0,3771.5 L1515.2,3771.5 L1516.4,3771.5 L1517.6,3771.5 L1518.8,3771.5 L1520.0,3771.5 L1521.2,3771.5 L1522.4,3771.5 L1523.6,3771.5 L1524.7,3771.5 L1525.9,3771.5 L1527.1,3771.5 L1528.3,3771.5 L1529.5,3771.5 L1530.7,3771.5 L1531.9,3771.5 L1533.1,3771.5 L1534.3,3771.5 L1535.5,3771.5 L1536.7,3771.5 L1537.9,3771.5 L1539.0,3771.5 L1540.2,3771.5 L1541.4,3771.5 L1542.6,3771.5 L1543.8,3771.5 L1545.0,3771.5 L1546.2,3771.5 L1547.4,3771.5 L1548.6,3771.5 L1549.8,3771.5 L1551.0,3771.5 L1552.2,3771.5 L1553.4,3771.5 L1554.5,3771.5 L1555.7,3771.5 L1556.9,3771.5 L1558.1,3771.5 L1559.3,3771.5 L1560.5,3771.5 L1561.7,3771.5 L1562.9,3771.5 L1564.1,3771.5 L1565.3,3771.5 L1566.5,3771.5 L1567.7,3771.5 L1568.8,3771.5 L1570.0,3771.5 L1571.2,3771.5 L1572.4,3771.5 L1573.6,3771.5 L1574.8,3771.5 L1576.0,3771.5 L1577.2,3771.5 L1578.4,3771.5 L1579.6,3771.5 L1580.8,3771.5 L1582.0,3771.5 L1583.2,3771.5 L1584.3,3771.5 L1585.5,3771.5 L1586.7,3771.5 L1587.9,3771.5 L1589.1,3771.5 L1590.3,3771.5 L1591.5,3771.5 L1592.7,3771.5 L1593.9,3771.5 L1595.1,3771.5 L1596.3,3771.5 L1597.5,3771.5 L1598.6,3771.5 L1599.8,3771.5 L1601.0,3771.5 L1602.2,3771.5 L1603.4,3771.5 L1604.6,3771.5 L1605.8,3771.5 L1607.0,3771.5 L1608.2,3771.5 L1609.4,3771.5 L1610.6,3771.5 L1611.8,3771.5 L1613.0,3771.5 L1614.1,3771.5 L1615.3,3771.5 L1616.5,3771.5 L1617.7,3771.5 L1618.9,3771.5 L1620.1,3771.5 L1621.3,3771.5 L1622.5,3771.5 L1623.7,3771.5 L1624.9,3771.5 L1626.1,3771.5 L1627.3,3771.5 L1628.4,3771.5 L1629.6,3771.4 L1630.8,3771.4 L1632.0,3771.4 L1633.2,3771.4 L1634.4,3771.4 L1635.6,3771.4 L1636.8,3771.3 L1638.0,3771.3 L1639.2,3771.3 L1640.4,3771.2 L1641.6,3771.2 L1642.8,3771.1 L1643.9,3771.1 L1645.1,3771.0 L1646.3,3770.9 L1647.5,3770.9 L1648.7,3770.8 L1649.9,3770.7 L1651.1,3770.5 L1652.3,3770.4 L1653.5,3770.2 L1654.7,3770.0 L1655.9,3769.8 L1657.1,3769.6 L1658.2,3769.3 L1659.4,3769.1 L1660.6,3768.7 L1661.8,3768.4 L1663.0,3768.0 L1664.2,3767.5 L1665.4,3767.1 L1666.6,3766.5 L1667.8,3765.9 L1669.0,3765.3 L1670.2,3764.6 L1671.4,3763.8 L1672.6,3763.0 L1673.7,3762.1 L1674.9,3761.1 L1676.1,3760.0 L1677.3,3758.9 L1678.5,3757.6 L1679.7,3756.3 L1680.9,3754.9 L1682.1,3753.4 L1683.3,3751.7 L1684.5,3750.0 L1685.7,3748.2 L1686.9,3746.3 L1688.0,3744.3 L1689.2,3742.1 L1690.4,3739.9 L1691.6,3737.6 L1692.8,3735.1 L1694.0,3732.6 L1695.2,3729.9 L1696.4,3727.2 L1697.6,3724.4 L1698.8,3721.6 L1700.0,3718.6 L1701.2,3715.6 L1702.4,3712.5 L1703.5,3709.4 L1704.7,3706.3 L1705.9,3703.1 L1707.1,3699.9 L1708.3,3696.8 L1709.5,3693.6 L1710.7,3690.5 L1711.9,3687.4 L1713.1,3684.4 L1714.3,3681.4 L1715.5,3678.6 L1716.7,3675.8 L1717.8,3673.2 L1719.0,3670.6 L1720.2,3668.3 L1721.4,3666.0 L1722.6,3664.0 L1723.8,3662.1 L1725.0,3660.4 L1726.2,3658.9 L1727.4,3657.6 L1728.6,3656.6 L1729.8,3655.7 L1731.0,3655.1 L1732.2,3654.7 L1733.3,3654.6 L1734.5,3654.7 L1735.7,3655.0 L1736.9,3655.5 L1738.1,3656.3 L1739.3,3657.3 L1740.5,3658.5 L1741.7,3659.9 L1742.9,3661.6 L1744.1,3663.4 L1745.3,3665.4 L1746.5,3667.6 L1747.6,3669.9 L1748.8,3672.4 L1750.0,3675.0 L1751.2,3677.7 L1752.4,3680.6 L1753.6,3683.5 L1754.8,3686.5 L1756.0,3689.6 L1757.2,3692.7 L1758.4,3695.8 L1759.6,3699.0 L1760.8,3702.2 L1762.0,3705.3 L1763.1,3708.5 L1764.3,3711.6 L1765.5,3714.7 L1766.7,3717.7 L1767.9,3720.7 L1769.1,3723.6 L1770.3,3726.4 L1771.5,3729.1 L1772.7,3731.8 L1773.9,3734.4 L1775.1,3736.8 L1776.3,3739.2 L1777.4,3741.5 L1778.6,3743.6 L1779.8,3745.7 L1781.0,3747.6 L1782.2,3749.5 L1783.4,3751.2 L1784.6,3752.9 L1785.8,3754.4 L1787.0,3755.9 L1788.2,3757.2 L1789.4,3758.5 L1790.6,3759.7 L1791.8,3760.8 L1792.9,3761.8 L1794.1,3762.7 L1795.3,3763.6 L1796.5,3764.4 L1797.7,3765.1 L1798.9,3765.7 L1800.1,3766.3 L1801.3,3766.9 L1802.5,3767.4 L1803.7,3767.8 L1804.9,3768.3 L1806.1,3768.6 L1807.2,3769.0 L1808.4,3769.3 L1809.6,3769.5 L1810.8,3769.8 L1812.0,3770.0 L1813.2,3770.2 L1814.4,3770.3 L1815.6,3770.5 L1816.8,3770.6 L1818.0,3770.7 L1819.2,3770.8 L1820.4,3770.9 L1821.6,3771.0 L1822.7,3771.1 L1823.9,3771.1 L1825.1,3771.2 L1826.3,3771.2 L1827.5,3771.3 L1828.7,3771.3 L1829.9,3771.3 L1831.1,3771.4 L1832.3,3771.4 L1833.5,3771.4 L1834.7,3771.4 L1835.9,3771.4 L1837.0,3771.4 L1838.2,3771.4 L1839.4,3771.5 L1840.6,3771.5 L1841.8,3771.5 L1843.0,3771.5 L1844.2,3771.5 L1845.4,3771.5 L1846.6,3771.5 L1847.8,3771.5 L1849.0,3771.5 L1850.2,3771.5 L1851.4,3771.5 L1852.5,3771.5 L1853.7,3771.5 L1854.9,3771.5 L1856.1,3771.5 L1857.3,3771.5 L1858.5,3771.5 L1859.7,3771.5 L1860.9,3771.4 L1862.1,3771.4 L1863.3,3771.4 L1864.5,3771.4 L1865.7,3771.4 L1866.8,3771.4 L1868.0,3771.4 L1869.2,3771.4 L1870.4,3771.3 L1871.6,3771.3 L1872.8,3771.3 L1874.0,3771.3 L1875.2,3771.2 L1876.4,3771.2 L1877.6,3771.2 L1878.8,3771.1 L1880.0,3771.1 L1881.2,3771.0 L1882.3,3771.0 L1883.5,3770.9 L1884.7,3770.8 L1885.9,3770.7 L1887.1,3770.7 L1888.3,3770.6 L1889.5,3770.4 L1890.7,3770.3 L1891.9,3770.2 L1893.1,3770.1 L1894.3,3769.9 L1895.5,3769.7 L1896.6,3769.6 L1897.8,3769.4 L1899.0,3769.1 L1900.2,3768.9 L1901.4,3768.6 L1902.6,3768.4 L1903.8,3768.1 L1905.0,3767.8 L1906.2,3767.4 L1907.4,3767.1 L1908.6,3766.7 L1909.8,3766.3 L1911.0,3765.8 L1912.1,3765.3 L1913.3,3764.8 L1914.5,3764.3 L1915.7,3763.7 L1916.9,3763.1 L1918.1,3762.5 L1919.3,3761.8 L1920.5,3761.1 L1921.7,3760.4 L1922.9,3759.6 L1924.1,3758.8 L1925.3,3758.0 L1926.4,3757.1 L1927.6,3756.2 L1928.8,3755.3 L1930.0,3754.3 L1931.2,3753.3 L1932.4,3752.3 L1933.6,3751.2 L1934.8,3750.1 L1936.0,3749.0 L1937.2,3747.8 L1938.4,3746.7 L1939.6,3745.5 L1940.8,3744.3 L1941.9,3743.1 L1943.1,3741.9 L1944.3,3740.6 L1945.5,3739.4 L1946.7,3738.1 L1947.9,3736.9 L1949.1,3735.7 L1950.3,3734.5 L1951.5,3733.2 L1952.7,3732.1 L1953.9,3730.9 L1955.1,3729.7 L1956.2,3728.6 L1957.4,3727.6 L1958.6,3726.5 L1959.8,3725.5 L1961.0,3724.6 L1962.2,3723.7 L1963.4,3722.8 L1964.6,3722.0 L1965.8,3721.3 L1967.0,3720.6 L1968.2,3720.0 L1969.4,3719.5 L1970.6,3719.0 L1971.7,3718.7 L1972.9,3718.3 L1974.1,3718.1 L1975.3,3717.9 L1976.5,3717.8 L1977.7,3717.8 L1978.9,3717.9 L1980.1,3718.1 L1981.3,3718.3 L1982.5,3718.6 L1983.7,3719.0 L1984.9,3719.4 L1986.0,3719.9 L1987.2,3720.5 L1988.4,3721.2 L1989.6,3721.9 L1990.8,3722.7 L1992.0,3723.5 L1993.2,3724.4 L1994.4,3725.3 L1995.6,3726.3 L1996.8,3727.4 L1998.0,3728.4 L1999.2,3729.5 L2000.4,3730.7 L2001.5,3731.8 L2002.7,3733.0 L2003.9,3734.2 L2005.1,3735.4 L2006.3,3736.7 L2007.5,3737.9 L2008.7,3739.1 L2009.9,3740.4 L2011.1,3741.6 L2012.3,3742.8 L2013.5,3744.1 L2014.7,3745.3 L2015.8,3746.4 L2017.0,3747.6 L2018.2,3748.8 L2019.4,3749.9 L2020.6,3751.0 L2021.8,3752.1 L2023.0,3753.1 L2024.2,3754.1 L2025.4,3755.1 L2026.6,3756.0 L2027.8,3756.9 L2029.0,3757.8 L2030.2,3758.7 L2031.3,3759.5 L2032.5,3760.2 L2033.7,3761.0 L2034.9,3761.7 L2036.1,3762.4 L2037.3,3763.0 L2038.5,3763.6 L2039.7,3764.2 L2040.9,3764.7 L2042.1,3765.2 L2043.3,3765.7 L2044.5,3766.2 L2045.6,3766.6 L2046.8,3767.0 L2048.0,3767.4 L2049.2,3767.7 L2050.4,3768.0 L2051.6,3768.3 L2052.8,3768.6 L2054.0,3768.9 L2055.2,3769.1 L2056.4,3769.3 L2057.6,3769.5 L2058.8,3769.7 L2060.0,3769.9 L2061.1,3770.0 L2062.3,3770.2 L2063.5,3770.3 L2064.7,3770.4 L2065.9,3770.5 L2067.1,3770.6 L2068.3,3770.7 L2069.5,3770.8 L2070.7,3770.9 L2071.9,3770.9 L2073.1,3771.0 L2074.3,3771.1 L2075.4,3771.1 L2076.6,3771.1 L2077.8,3771.2 L2079.0,3771.2 L2080.2,3771.2 L2081.4,3771.3 L2082.6,3771.3 L2083.8,3771.3 L2085.0,3771.3 L2086.2,3771.3 L2087.4,3771.4 L2088.6,3771.4 L2089.8,3771.4 L2090.9,3771.4 L2092.1,3771.4 L2093.3,3771.4 L2094.5,3771.4 L2095.7,3771.4 L2096.9,3771.4 L2098.1,3771.4 L2099.3,3771.4 L2100.5,3771.3 L2101.7,3771.3 L2102.9,3771.3 L2104.1,3771.3 L2105.2,3771.3 L2106.4,3771.3 L2107.6,3771.2 L2108.8,3771.2 L2110.0,3771.2 L2111.2,3771.1 L2112.4,3771.1 L2113.6,3771.1 L2114.8,3771.0 L2116.0,3771.0 L2117.2,3770.9 L2118.4,3770.9 L2119.6,3770.8 L2120.7,3770.7 L2121.9,3770.7 L2123.1,3770.6 L2124.3,3770.5 L2125.5,3770.4 L2126.7,3770.3 L2127.9,3770.2 L2129.1,3770.1 L2130.3,3770.0 L2131.5,3769.8 L2132.7,3769.7 L2133.9,3769.5 L2135.0,3769.4 L2136.2,3769.2 L2137.4,3769.0 L2138.6,3768.8 L2139.8,3768.6 L2141.0,3768.4 L2142.2,3768.2 L2143.4,3767.9 L2144.6,3767.6 L2145.8,3767.4 L2147.0,3767.1 L2148.2,3766.8 L2149.4,3766.4 L2150.5,3766.1 L2151.7,3765.7 L2152.9,3765.4 L2154.1,3765.0 L2155.3,3764.6 L2156.5,3764.2 L2157.7,3763.7 L2158.9,3763.3 L2160.1,3762.8 L2161.3,3762.3 L2162.5,3761.8 L2163.7,3761.3 L2164.8,3760.7 L2166.0,3760.1 L2167.2,3759.6 L2168.4,3759.0 L2169.6,3758.4 L2170.8,3757.8 L2172.0,3757.1 L2173.2,3756.5 L2174.4,3755.8 L2175.6,3755.2 L2176.8,3754.5 L2178.0,3753.8 L2179.2,3753.1 L2180.3,3752.4 L2181.5,3751.7 L2182.7,3751.0 L2183.9,3750.3 L2185.1,3749.6 L2186.3,3748.9 L2187.5,3748.2 L2188.7,3747.5 L2189.9,3746.8 L2191.1,3746.1 L2192.3,3745.4 L2193.5,3744.8 L2194.6,3744.1 L2195.8,3743.5 L2197.0,3742.9 L2198.2,3742.3 L2199.4,3741.7 L2200.6,3741.2 L2201.8,3740.6" stroke="#2a2a2a" stroke-width="5.4"/>
<path d="M413.8,3771.5 L415.0,3771.5 L416.2,3771.5 L417.4,3771.5 L418.6,3771.5 L419.8,3771.5 L421.0,3771.5 L422.1,3771.5 L423.3,3771.5 L424.5,3771.5 L425.7,3771.5 L426.9,3771.5 L428.1,3771.5 L429.3,3771.5 L430.5,3771.5 L431.7,3771.5 L432.9,3771.5 L434.1,3771.5 L435.3,3771.5 L436.4,3771.5 L437.6,3771.5 L438.8,3771.5 L440.0,3771.5 L441.2,3771.5 L442.4,3771.5 L443.6,3771.5 L444.8,3771.5 L446.0,3771.5 L447.2,3771.5 L448.4,3771.5 L449.6,3771.5 L450.8,3771.5 L451.9,3771.5 L453.1,3771.5 L454.3,3771.5 L455.5,3771.5 L456.7,3771.5 L457.9,3771.5 L459.1,3771.5 L460.3,3771.5 L461.5,3771.5 L462.7,3771.5 L463.9,3771.5 L465.1,3771.5 L466.2,3771.5 L467.4,3771.5 L468.6,3771.5 L469.8,3771.5 L471.0,3771.5 L472.2,3771.5 L473.4,3771.5 L474.6,3771.5 L475.8,3771.5 L477.0,3771.5 L478.2,3771.5 L479.4,3771.5 L480.6,3771.5 L481.7,3771.5 L482.9,3771.5 L484.1,3771.5 L485.3,3771.5 L486.5,3771.5 L487.7,3771.5 L488.9,3771.5 L490.1,3771.5 L491.3,3771.5 L492.5,3771.5 L493.7,3771.5 L494.9,3771.5 L496.0,3771.5 L497.2,3771.5 L498.4,3771.5 L499.6,3771.5 L500.8,3771.5 L502.0,3771.5 L503.2,3771.5 L504.4,3771.5 L505.6,3771.5 L506.8,3771.5 L508.0,3771.5 L509.2,3771.5 L510.4,3771.5 L511.5,3771.5 L512.7,3771.5 L513.9,3771.5 L515.1,3771.5 L516.3,3771.5 L517.5,3771.5 L518.7,3771.5 L519.9,3771.5 L521.1,3771.5 L522.3,3771.5 L523.5,3771.5 L524.7,3771.5 L525.8,3771.5 L527.0,3771.5 L528.2,3771.5 L529.4,3771.5 L530.6,3771.5 L531.8,3771.5 L533.0,3771.5 L534.2,3771.5 L535.4,3771.5 L536.6,3771.5 L537.8,3771.5 L539.0,3771.5 L540.2,3771.5 L541.3,3771.5 L542.5,3771.5 L543.7,3771.5 L544.9,3771.5 L546.1,3771.5 L547.3,3771.5 L548.5,3771.5 L549.7,3771.5 L550.9,3771.5 L552.1,3771.5 L553.3,3771.5 L554.5,3771.5 L555.6,3771.5 L556.8,3771.5 L558.0,3771.5 L559.2,3771.5 L560.4,3771.5 L561.6,3771.5 L562.8,3771.5 L564.0,3771.5 L565.2,3771.5 L566.4,3771.5 L567.6,3771.5 L568.8,3771.5 L570.0,3771.5 L571.1,3771.5 L572.3,3771.5 L573.5,3771.5 L574.7,3771.5 L575.9,3771.5 L577.1,3771.5 L578.3,3771.5 L579.5,3771.5 L580.7,3771.5 L581.9,3771.5 L583.1,3771.5 L584.3,3771.5 L585.4,3771.5 L586.6,3771.5 L587.8,3771.5 L589.0,3771.5 L590.2,3771.5 L591.4,3771.5 L592.6,3771.5 L593.8,3771.5 L595.0,3771.5 L596.2,3771.5 L597.4,3771.5 L598.6,3771.5 L599.8,3771.5 L600.9,3771.5 L602.1,3771.5 L603.3,3771.5 L604.5,3771.5 L605.7,3771.5 L606.9,3771.5 L608.1,3771.5 L609.3,3771.5 L610.5,3771.5 L611.7,3771.5 L612.9,3771.5 L614.1,3771.5 L615.2,3771.5 L616.4,3771.5 L617.6,3771.5 L618.8,3771.5 L620.0,3771.5 L621.2,3771.5 L622.4,3771.5 L623.6,3771.5 L624.8,3771.5 L626.0,3771.5 L627.2,3771.5 L628.4,3771.5 L629.6,3771.5 L630.7,3771.5 L631.9,3771.5 L633.1,3771.5 L634.3,3771.5 L635.5,3771.5 L636.7,3771.5 L637.9,3771.5 L639.1,3771.5 L640.3,3771.5 L641.5,3771.5 L642.7,3771.5 L643.9,3771.5 L645.0,3771.5 L646.2,3771.5 L647.4,3771.5 L648.6,3771.5 L649.8,3771.5 L651.0,3771.5 L652.2,3771.5 L653.4,3771.5 L654.6,3771.5 L655.8,3771.5 L657.0,3771.5 L658.2,3771.5 L659.4,3771.5 L660.5,3771.5 L661.7,3771.5 L662.9,3771.5 L664.1,3771.5 L665.3,3771.5 L666.5,3771.5 L667.7,3771.5 L668.9,3771.5 L670.1,3771.5 L671.3,3771.5 L672.5,3771.5 L673.7,3771.5 L674.8,3771.5 L676.0,3771.5 L677.2,3771.5 L678.4,3771.5 L679.6,3771.5 L680.8,3771.5 L682.0,3771.5 L683.2,3771.5 L684.4,3771.5 L685.6,3771.5 L686.8,3771.5 L688.0,3771.5 L689.2,3771.5 L690.3,3771.5 L691.5,3771.5 L692.7,3771.5 L693.9,3771.5 L695.1,3771.5 L696.3,3771.5 L697.5,3771.5 L698.7,3771.5 L699.9,3771.5 L701.1,3771.5 L702.3,3771.5 L703.5,3771.5 L704.6,3771.5 L705.8,3771.5 L707.0,3771.5 L708.2,3771.5 L709.4,3771.5 L710.6,3771.5 L711.8,3771.5 L713.0,3771.5 L714.2,3771.5 L715.4,3771.5 L716.6,3771.5 L717.8,3771.5 L719.0,3771.5 L720.1,3771.5 L721.3,3771.5 L722.5,3771.5 L723.7,3771.5 L724.9,3771.5 L726.1,3771.5 L727.3,3771.5 L728.5,3771.5 L729.7,3771.5 L730.9,3771.5 L732.1,3771.5 L733.3,3771.5 L734.4,3771.5 L735.6,3771.5 L736.8,3771.5 L738.0,3771.5 L739.2,3771.5 L740.4,3771.5 L741.6,3771.5 L742.8,3771.5 L744.0,3771.5 L745.2,3771.5 L746.4,3771.5 L747.6,3771.5 L748.8,3771.5 L749.9,3771.5 L751.1,3771.5 L752.3,3771.5 L753.5,3771.5 L754.7,3771.5 L755.9,3771.5 L757.1,3771.5 L758.3,3771.5 L759.5,3771.5 L760.7,3771.5 L761.9,3771.5 L763.1,3771.5 L764.2,3771.5 L765.4,3771.5 L766.6,3771.5 L767.8,3771.5 L769.0,3771.5 L770.2,3771.5 L771.4,3771.5 L772.6,3771.5 L773.8,3771.5 L775.0,3771.5 L776.2,3771.5 L777.4,3771.5 L778.6,3771.5 L779.7,3771.5 L780.9,3771.5 L782.1,3771.5 L783.3,3771.5 L784.5,3771.5 L785.7,3771.5 L786.9,3771.5 L788.1,3771.5 L789.3,3771.5 L790.5,3771.5 L791.7,3771.5 L792.9,3771.5 L794.0,3771.5 L795.2,3771.5 L796.4,3771.5 L797.6,3771.5 L798.8,3771.5 L800.0,3771.5 L801.2,3771.5 L802.4,3771.5 L803.6,3771.5 L804.8,3771.5 L806.0,3771.5 L807.2,3771.5 L808.4,3771.5 L809.5,3771.5 L810.7,3771.5 L811.9,3771.5 L813.1,3771.5 L814.3,3771.5 L815.5,3771.5 L816.7,3771.5 L817.9,3771.5 L819.1,3771.5 L820.3,3771.5 L821.5,3771.5 L822.7,3771.5 L823.8,3771.5 L825.0,3771.5 L826.2,3771.5 L827.4,3771.5 L828.6,3771.5 L829.8,3771.5 L831.0,3771.5 L832.2,3771.5 L833.4,3771.5 L834.6,3771.5 L835.8,3771.5 L837.0,3771.5 L838.2,3771.5 L839.3,3771.5 L840.5,3771.5 L841.7,3771.5 L842.9,3771.5 L844.1,3771.5 L845.3,3771.5 L846.5,3771.5 L847.7,3771.5 L848.9,3771.5 L850.1,3771.5 L851.3,3771.5 L852.5,3771.5 L853.6,3771.5 L854.8,3771.5 L856.0,3771.5 L857.2,3771.5 L858.4,3771.5 L859.6,3771.5 L860.8,3771.5 L862.0,3771.5 L863.2,3771.5 L864.4,3771.5 L865.6,3771.5 L866.8,3771.5 L868.0,3771.5 L869.1,3771.5 L870.3,3771.5 L871.5,3771.5 L872.7,3771.5 L873.9,3771.5 L875.1,3771.5 L876.3,3771.5 L877.5,3771.5 L878.7,3771.5 L879.9,3771.5 L881.1,3771.5 L882.3,3771.5 L883.4,3771.5 L884.6,3771.5 L885.8,3771.5 L887.0,3771.5 L888.2,3771.5 L889.4,3771.5 L890.6,3771.5 L891.8,3771.5 L893.0,3771.5 L894.2,3771.5 L895.4,3771.5 L896.6,3771.5 L897.8,3771.5 L898.9,3771.5 L900.1,3771.5 L901.3,3771.5 L902.5,3771.5 L903.7,3771.5 L904.9,3771.5 L906.1,3771.5 L907.3,3771.5 L908.5,3771.5 L909.7,3771.5 L910.9,3771.5 L912.1,3771.5 L913.2,3771.5 L914.4,3771.5 L915.6,3771.5 L916.8,3771.5 L918.0,3771.5 L919.2,3771.5 L920.4,3771.5 L921.6,3771.5 L922.8,3771.5 L924.0,3771.5 L925.2,3771.5 L926.4,3771.5 L927.6,3771.5 L928.7,3771.5 L929.9,3771.5 L931.1,3771.5 L932.3,3771.5 L933.5,3771.5 L934.7,3771.5 L935.9,3771.5 L937.1,3771.5 L938.3,3771.5 L939.5,3771.5 L940.7,3771.5 L941.9,3771.5 L943.0,3771.5 L944.2,3771.5 L945.4,3771.5 L946.6,3771.5 L947.8,3771.5 L949.0,3771.5 L950.2,3771.5 L951.4,3771.5 L952.6,3771.5 L953.8,3771.5 L955.0,3771.5 L956.2,3771.5 L957.4,3771.5 L958.5,3771.5 L959.7,3771.5 L960.9,3771.5 L962.1,3771.5 L963.3,3771.5 L964.5,3771.5 L965.7,3771.5 L966.9,3771.5 L968.1,3771.5 L969.3,3771.5 L970.5,3771.5 L971.7,3771.5 L972.8,3771.5 L974.0,3771.5 L975.2,3771.5 L976.4,3771.5 L977.6,3771.5 L978.8,3771.5 L980.0,3771.5 L981.2,3771.5 L982.4,3771.5 L983.6,3771.5 L984.8,3771.5 L986.0,3771.5 L987.2,3771.5 L988.3,3771.5 L989.5,3771.5 L990.7,3771.5 L991.9,3771.5 L993.1,3771.5 L994.3,3771.5 L995.5,3771.5 L996.7,3771.5 L997.9,3771.5 L999.1,3771.5 L1000.3,3771.5 L1001.5,3771.5 L1002.6,3771.5 L1003.8,3771.5 L1005.0,3771.5 L1006.2,3771.5 L1007.4,3771.5 L1008.6,3771.5 L1009.8,3771.5 L1011.0,3771.5 L1012.2,3771.5 L1013.4,3771.5 L1014.6,3771.5 L1015.8,3771.5 L1017.0,3771.5 L1018.1,3771.5 L1019.3,3771.5 L1020.5,3771.5 L1021.7,3771.5 L1022.9,3771.5 L1024.1,3771.5 L1025.3,3771.5 L1026.5,3771.5 L1027.7,3771.5 L1028.9,3771.5 L1030.1,3771.5 L1031.3,3771.5 L1032.4,3771.5 L1033.6,3771.5 L1034.8,3771.5 L1036.0,3771.5 L1037.2,3771.5 L1038.4,3771.5 L1039.6,3771.5 L1040.8,3771.5 L1042.0,3771.5 L1043.2,3771.5 L1044.4,3771.5 L1045.6,3771.5 L1046.8,3771.5 L1047.9,3771.5 L1049.1,3771.5 L1050.3,3771.5 L1051.5,3771.5 L1052.7,3771.5 L1053.9,3771.5 L1055.1,3771.5 L1056.3,3771.5 L1057.5,3771.5 L1058.7,3771.5 L1059.9,3771.5 L1061.1,3771.5 L1062.2,3771.5 L1063.4,3771.5 L1064.6,3771.5 L1065.8,3771.5 L1067.0,3771.5 L1068.2,3771.5 L1069.4,3771.5 L1070.6,3771.5 L1071.8,3771.5 L1073.0,3771.5 L1074.2,3771.5 L1075.4,3771.5 L1076.6,3771.5 L1077.7,3771.5 L1078.9,3771.5 L1080.1,3771.5 L1081.3,3771.5 L1082.5,3771.5 L1083.7,3771.5 L1084.9,3771.5 L1086.1,3771.5 L1087.3,3771.5 L1088.5,3771.5 L1089.7,3771.5 L1090.9,3771.5 L1092.0,3771.5 L1093.2,3771.5 L1094.4,3771.5 L1095.6,3771.5 L1096.8,3771.5 L1098.0,3771.5 L1099.2,3771.5 L1100.4,3771.5 L1101.6,3771.5 L1102.8,3771.5 L1104.0,3771.5 L1105.2,3771.5 L1106.4,3771.5 L1107.5,3771.5 L1108.7,3771.5 L1109.9,3771.5 L1111.1,3771.5 L1112.3,3771.5 L1113.5,3771.5 L1114.7,3771.5 L1115.9,3771.5 L1117.1,3771.5 L1118.3,3771.5 L1119.5,3771.5 L1120.7,3771.5 L1121.8,3771.5 L1123.0,3771.5 L1124.2,3771.5 L1125.4,3771.5 L1126.6,3771.5 L1127.8,3771.5 L1129.0,3771.5 L1130.2,3771.5 L1131.4,3771.5 L1132.6,3771.5 L1133.8,3771.5 L1135.0,3771.5 L1136.2,3771.5 L1137.3,3771.5 L1138.5,3771.5 L1139.7,3771.5 L1140.9,3771.5 L1142.1,3771.5 L1143.3,3771.5 L1144.5,3771.5 L1145.7,3771.5 L1146.9,3771.5 L1148.1,3771.5 L1149.3,3771.5 L1150.5,3771.5 L1151.6,3771.5 L1152.8,3771.5 L1154.0,3771.5 L1155.2,3771.5 L1156.4,3771.5 L1157.6,3771.5 L1158.8,3771.5 L1160.0,3771.5 L1161.2,3771.5 L1162.4,3771.5 L1163.6,3771.5 L1164.8,3771.5 L1166.0,3771.5 L1167.1,3771.5 L1168.3,3771.5 L1169.5,3771.5 L1170.7,3771.5 L1171.9,3771.5 L1173.1,3771.5 L1174.3,3771.5 L1175.5,3771.5 L1176.7,3771.5 L1177.9,3771.5 L1179.1,3771.5 L1180.3,3771.5 L1181.4,3771.5 L1182.6,3771.5 L1183.8,3771.5 L1185.0,3771.5 L1186.2,3771.5 L1187.4,3771.5 L1188.6,3771.5 L1189.8,3771.5 L1191.0,3771.5 L1192.2,3771.5 L1193.4,3771.5 L1194.6,3771.5 L1195.8,3771.5 L1196.9,3771.5 L1198.1,3771.5 L1199.3,3771.5 L1200.5,3771.5 L1201.7,3771.5 L1202.9,3771.5 L1204.1,3771.5 L1205.3,3771.5 L1206.5,3771.5 L1207.7,3771.5 L1208.9,3771.5 L1210.1,3771.5 L1211.2,3771.5 L1212.4,3771.5 L1213.6,3771.5 L1214.8,3771.5 L1216.0,3771.5 L1217.2,3771.5 L1218.4,3771.5 L1219.6,3771.5 L1220.8,3771.5 L1222.0,3771.5 L1223.2,3771.5 L1224.4,3771.5 L1225.6,3771.5 L1226.7,3771.5 L1227.9,3771.5 L1229.1,3771.5 L1230.3,3771.5 L1231.5,3771.5 L1232.7,3771.5 L1233.9,3771.5 L1235.1,3771.5 L1236.3,3771.5 L1237.5,3771.5 L1238.7,3771.5 L1239.9,3771.5 L1241.0,3771.5 L1242.2,3771.5 L1243.4,3771.5 L1244.6,3771.5 L1245.8,3771.5 L1247.0,3771.5 L1248.2,3771.5 L1249.4,3771.5 L1250.6,3771.4 L1251.8,3771.4 L1253.0,3771.4 L1254.2,3771.3 L1255.4,3771.2 L1256.5,3771.0 L1257.7,3770.8 L1258.9,3770.5 L1260.1,3770.1 L1261.3,3769.5 L1262.5,3768.8 L1263.7,3767.7 L1264.9,3766.2 L1266.1,3764.3 L1267.3,3761.7 L1268.5,3758.3 L1269.7,3753.9 L1270.8,3748.3 L1272.0,3741.1 L1273.2,3732.0 L1274.4,3720.7 L1275.6,3706.7 L1276.8,3689.6 L1278.0,3668.9 L1279.2,3644.1 L1280.4,3614.6 L1281.6,3580.1 L1282.8,3540.0 L1284.0,3494.0 L1285.2,3441.8 L1286.3,3383.2 L1287.5,3318.3 L1288.7,3247.1 L1289.9,3170.1 L1291.1,3087.8 L1292.3,3001.1 L1293.5,2911.1 L1294.7,2819.0 L1295.9,2726.3 L1297.1,2634.8 L1298.3,2546.0 L1299.5,2462.0 L1300.6,2384.6 L1301.8,2315.4 L1303.0,2256.4 L1304.2,2208.7 L1305.4,2173.8 L1306.6,2152.5 L1307.8,2145.3 L1309.0,2152.5 L1310.2,2173.8 L1311.4,2208.7 L1312.6,2256.4 L1313.8,2315.4 L1315.0,2384.6 L1316.1,2462.0 L1317.3,2546.0 L1318.5,2634.8 L1319.7,2726.3 L1320.9,2819.0 L1322.1,2911.1 L1323.3,3001.1 L1324.5,3087.8 L1325.7,3170.1 L1326.9,3247.1 L1328.1,3318.3 L1329.3,3383.2 L1330.4,3441.8 L1331.6,3494.0 L1332.8,3540.0 L1334.0,3580.1 L1335.2,3614.6 L1336.4,3644.1 L1337.6,3668.9 L1338.8,3689.6 L1340.0,3706.7 L1341.2,3720.7 L1342.4,3732.0 L1343.6,3741.1 L1344.8,3748.3 L1345.9,3753.9 L1347.1,3758.3 L1348.3,3761.7 L1349.5,3764.3 L1350.7,3766.2 L1351.9,3767.7 L1353.1,3768.8 L1354.3,3769.5 L1355.5,3770.1 L1356.7,3770.5 L1357.9,3770.8 L1359.1,3771.0 L1360.2,3771.2 L1361.4,3771.3 L1362.6,3771.4 L1363.8,3771.4 L1365.0,3771.4 L1366.2,3771.5 L1367.4,3771.5 L1368.6,3771.5 L1369.8,3771.5 L1371.0,3771.5 L1372.2,3771.5 L1373.4,3771.5 L1374.6,3771.5 L1375.7,3771.5 L1376.9,3771.5 L1378.1,3771.5 L1379.3,3771.5 L1380.5,3771.5 L1381.7,3771.5 L1382.9,3771.5 L1384.1,3771.5 L1385.3,3771.5 L1386.5,3771.5 L1387.7,3771.5 L1388.9,3771.5 L1390.0,3771.5 L1391.2,3771.5 L1392.4,3771.5 L1393.6,3771.5 L1394.8,3771.5 L1396.0,3771.5 L1397.2,3771.5 L1398.4,3771.5 L1399.6,3771.5 L1400.8,3771.5 L1402.0,3771.5 L1403.2,3771.5 L1404.4,3771.5 L1405.5,3771.5 L1406.7,3771.5 L1407.9,3771.5 L1409.1,3771.5 L1410.3,3771.5 L1411.5,3771.5 L1412.7,3771.5 L1413.9,3771.5 L1415.1,3771.5 L1416.3,3771.5 L1417.5,3771.5 L1418.7,3771.5 L1419.8,3771.5 L1421.0,3771.5 L1422.2,3771.5 L1423.4,3771.5 L1424.6,3771.5 L1425.8,3771.5 L1427.0,3771.5 L1428.2,3771.5 L1429.4,3771.5 L1430.6,3771.5 L1431.8,3771.5 L1433.0,3771.5 L1434.2,3771.5 L1435.3,3771.5 L1436.5,3771.5 L1437.7,3771.5 L1438.9,3771.5 L1440.1,3771.5 L1441.3,3771.5 L1442.5,3771.5 L1443.7,3771.5 L1444.9,3771.5 L1446.1,3771.5 L1447.3,3771.5 L1448.5,3771.5 L1449.6,3771.5 L1450.8,3771.5 L1452.0,3771.5 L1453.2,3771.5 L1454.4,3771.5 L1455.6,3771.5 L1456.8,3771.5 L1458.0,3771.5 L1459.2,3771.5 L1460.4,3771.5 L1461.6,3771.5 L1462.8,3771.5 L1464.0,3771.5 L1465.1,3771.5 L1466.3,3771.5 L1467.5,3771.5 L1468.7,3771.5 L1469.9,3771.5 L1471.1,3771.5 L1472.3,3771.5 L1473.5,3771.5 L1474.7,3771.5 L1475.9,3771.5 L1477.1,3771.5 L1478.3,3771.5 L1479.4,3771.5 L1480.6,3771.5 L1481.8,3771.5 L1483.0,3771.5 L1484.2,3771.5 L1485.4,3771.5 L1486.6,3771.5 L1487.8,3771.5 L1489.0,3771.5 L1490.2,3771.5 L1491.4,3771.5 L1492.6,3771.5 L1493.8,3771.5 L1494.9,3771.5 L1496.1,3771.5 L1497.3,3771.5 L1498.5,3771.5 L1499.7,3771.5 L1500.9,3771.5 L1502.1,3771.5 L1503.3,3771.5 L1504.5,3771.5 L1505.7,3771.5 L1506.9,3771.5 L1508.1,3771.5 L1509.2,3771.5 L1510.4,3771.5 L1511.6,3771.5 L1512.8,3771.5 L1514.0,3771.5 L1515.2,3771.5 L1516.4,3771.5 L1517.6,3771.5 L1518.8,3771.5 L1520.0,3771.5 L1521.2,3771.5 L1522.4,3771.5 L1523.6,3771.5 L1524.7,3771.5 L1525.9,3771.5 L1527.1,3771.5 L1528.3,3771.5 L1529.5,3771.5 L1530.7,3771.5 L1531.9,3771.5 L1533.1,3771.5 L1534.3,3771.5 L1535.5,3771.5 L1536.7,3771.5 L1537.9,3771.5 L1539.0,3771.5 L1540.2,3771.5 L1541.4,3771.5 L1542.6,3771.5 L1543.8,3771.5 L1545.0,3771.5 L1546.2,3771.5 L1547.4,3771.5 L1548.6,3771.5 L1549.8,3771.5 L1551.0,3771.5 L1552.2,3771.5 L1553.4,3771.5 L1554.5,3771.5 L1555.7,3771.5 L1556.9,3771.5 L1558.1,3771.5 L1559.3,3771.5 L1560.5,3771.5 L1561.7,3771.5 L1562.9,3771.5 L1564.1,3771.5 L1565.3,3771.5 L1566.5,3771.5 L1567.7,3771.5 L1568.8,3771.5 L1570.0,3771.5 L1571.2,3771.5 L1572.4,3771.5 L1573.6,3771.5 L1574.8,3771.5 L1576.0,3771.5 L1577.2,3771.5 L1578.4,3771.5 L1579.6,3771.5 L1580.8,3771.5 L1582.0,3771.5 L1583.2,3771.5 L1584.3,3771.5 L1585.5,3771.5 L1586.7,3771.5 L1587.9,3771.5 L1589.1,3771.5 L1590.3,3771.5 L1591.5,3771.5 L1592.7,3771.5 L1593.9,3771.5 L1595.1,3771.5 L1596.3,3771.5 L1597.5,3771.5 L1598.6,3771.5 L1599.8,3771.5 L1601.0,3771.5 L1602.2,3771.5 L1603.4,3771.5 L1604.6,3771.5 L1605.8,3771.5 L1607.0,3771.5 L1608.2,3771.5 L1609.4,3771.5 L1610.6,3771.5 L1611.8,3771.5 L1613.0,3771.5 L1614.1,3771.5 L1615.3,3771.5 L1616.5,3771.5 L1617.7,3771.5 L1618.9,3771.5 L1620.1,3771.5 L1621.3,3771.5 L1622.5,3771.5 L1623.7,3771.5 L1624.9,3771.5 L1626.1,3771.5 L1627.3,3771.5 L1628.4,3771.5 L1629.6,3771.5 L1630.8,3771.5 L1632.0,3771.5 L1633.2,3771.5 L1634.4,3771.5 L1635.6,3771.5 L1636.8,3771.5 L1638.0,3771.5 L1639.2,3771.5 L1640.4,3771.5 L1641.6,3771.5 L1642.8,3771.5 L1643.9,3771.5 L1645.1,3771.5 L1646.3,3771.5 L1647.5,3771.5 L1648.7,3771.5 L1649.9,3771.5 L1651.1,3771.5 L1652.3,3771.5 L1653.5,3771.5 L1654.7,3771.5 L1655.9,3771.5 L1657.1,3771.5 L1658.2,3771.5 L1659.4,3771.5 L1660.6,3771.5 L1661.8,3771.5 L1663.0,3771.5 L1664.2,3771.5 L1665.4,3771.5 L1666.6,3771.5 L1667.8,3771.5 L1669.0,3771.5 L1670.2,3771.5 L1671.4,3771.5 L1672.6,3771.5 L1673.7,3771.5 L1674.9,3771.5 L1676.1,3771.5 L1677.3,3771.5 L1678.5,3771.5 L1679.7,3771.5 L1680.9,3771.5 L1682.1,3771.5 L1683.3,3771.5 L1684.5,3771.5 L1685.7,3771.5 L1686.9,3771.5 L1688.0,3771.5 L1689.2,3771.5 L1690.4,3771.5 L1691.6,3771.5 L1692.8,3771.5 L1694.0,3771.5 L1695.2,3771.5 L1696.4,3771.5 L1697.6,3771.5 L1698.8,3771.5 L1700.0,3771.5 L1701.2,3771.5 L1702.4,3771.5 L1703.5,3771.5 L1704.7,3771.5 L1705.9,3771.5 L1707.1,3771.5 L1708.3,3771.5 L1709.5,3771.5 L1710.7,3771.5 L1711.9,3771.5 L1713.1,3771.5 L1714.3,3771.5 L1715.5,3771.5 L1716.7,3771.5 L1717.8,3771.5 L1719.0,3771.5 L1720.2,3771.5 L1721.4,3771.5 L1722.6,3771.5 L1723.8,3771.5 L1725.0,3771.5 L1726.2,3771.5 L1727.4,3771.5 L1728.6,3771.5 L1729.8,3771.5 L1731.0,3771.5 L1732.2,3771.5 L1733.3,3771.5 L1734.5,3771.5 L1735.7,3771.5 L1736.9,3771.5 L1738.1,3771.5 L1739.3,3771.5 L1740.5,3771.5 L1741.7,3771.5 L1742.9,3771.5 L1744.1,3771.5 L1745.3,3771.5 L1746.5,3771.5 L1747.6,3771.5 L1748.8,3771.5 L1750.0,3771.5 L1751.2,3771.5 L1752.4,3771.5 L1753.6,3771.5 L1754.8,3771.5 L1756.0,3771.5 L1757.2,3771.5 L1758.4,3771.5 L1759.6,3771.5 L1760.8,3771.5 L1762.0,3771.5 L1763.1,3771.5 L1764.3,3771.5 L1765.5,3771.5 L1766.7,3771.5 L1767.9,3771.5 L1769.1,3771.5 L1770.3,3771.5 L1771.5,3771.5 L1772.7,3771.5 L1773.9,3771.5 L1775.1,3771.5 L1776.3,3771.5 L1777.4,3771.5 L1778.6,3771.5 L1779.8,3771.5 L1781.0,3771.5 L1782.2,3771.5 L1783.4,3771.5 L1784.6,3771.5 L1785.8,3771.5 L1787.0,3771.5 L1788.2,3771.5 L1789.4,3771.5 L1790.6,3771.5 L1791.8,3771.5 L1792.9,3771.5 L1794.1,3771.5 L1795.3,3771.5 L1796.5,3771.5 L1797.7,3771.5 L1798.9,3771.5 L1800.1,3771.5 L1801.3,3771.5 L1802.5,3771.5 L1803.7,3771.5 L1804.9,3771.5 L1806.1,3771.5 L1807.2,3771.5 L1808.4,3771.5 L1809.6,3771.5 L1810.8,3771.5 L1812.0,3771.5 L1813.2,3771.5 L1814.4,3771.5 L1815.6,3771.5 L1816.8,3771.5 L1818.0,3771.5 L1819.2,3771.5 L1820.4,3771.5 L1821.6,3771.5 L1822.7,3771.5 L1823.9,3771.5 L1825.1,3771.5 L1826.3,3771.5 L1827.5,3771.5 L1828.7,3771.5 L1829.9,3771.5 L1831.1,3771.5 L1832.3,3771.5 L1833.5,3771.5 L1834.7,3771.5 L1835.9,3771.5 L1837.0,3771.5 L1838.2,3771.5 L1839.4,3771.5 L1840.6,3771.5 L1841.8,3771.5 L1843.0,3771.5 L1844.2,3771.5 L1845.4,3771.5 L1846.6,3771.5 L1847.8,3771.5 L1849.0,3771.5 L1850.2,3771.5 L1851.4,3771.5 L1852.5,3771.5 L1853.7,3771.5 L1854.9,3771.5 L1856.1,3771.5 L1857.3,3771.5 L1858.5,3771.5 L1859.7,3771.5 L1860.9,3771.5 L1862.1,3771.5 L1863.3,3771.5 L1864.5,3771.5 L1865.7,3771.5 L1866.8,3771.5 L1868.0,3771.5 L1869.2,3771.5 L1870.4,3771.5 L1871.6,3771.5 L1872.8,3771.5 L1874.0,3771.5 L1875.2,3771.5 L1876.4,3771.5 L1877.6,3771.5 L1878.8,3771.5 L1880.0,3771.5 L1881.2,3771.5 L1882.3,3771.5 L1883.5,3771.5 L1884.7,3771.5 L1885.9,3771.5 L1887.1,3771.5 L1888.3,3771.5 L1889.5,3771.5 L1890.7,3771.5 L1891.9,3771.5 L1893.1,3771.5 L1894.3,3771.5 L1895.5,3771.5 L1896.6,3771.5 L1897.8,3771.5 L1899.0,3771.5 L1900.2,3771.5 L1901.4,3771.5 L1902.6,3771.5 L1903.8,3771.5 L1905.0,3771.5 L1906.2,3771.5 L1907.4,3771.5 L1908.6,3771.5 L1909.8,3771.5 L1911.0,3771.5 L1912.1,3771.5 L1913.3,3771.5 L1914.5,3771.5 L1915.7,3771.5 L1916.9,3771.5 L1918.1,3771.5 L1919.3,3771.5 L1920.5,3771.5 L1921.7,3771.5 L1922.9,3771.5 L1924.1,3771.5 L1925.3,3771.5 L1926.4,3771.5 L1927.6,3771.5 L1928.8,3771.5 L1930.0,3771.5 L1931.2,3771.5 L1932.4,3771.5 L1933.6,3771.5 L1934.8,3771.5 L1936.0,3771.5 L1937.2,3771.5 L1938.4,3771.5 L1939.6,3771.5 L1940.8,3771.5 L1941.9,3771.5 L1943.1,3771.5 L1944.3,3771.5 L1945.5,3771.5 L1946.7,3771.5 L1947.9,3771.5 L1949.1,3771.5 L1950.3,3771.5 L1951.5,3771.5 L1952.7,3771.5 L1953.9,3771.5 L1955.1,3771.5 L1956.2,3771.5 L1957.4,3771.5 L1958.6,3771.5 L1959.8,3771.5 L1961.0,3771.5 L1962.2,3771.5 L1963.4,3771.5 L1964.6,3771.5 L1965.8,3771.5 L1967.0,3771.5 L1968.2,3771.5 L1969.4,3771.5 L1970.6,3771.5 L1971.7,3771.5 L1972.9,3771.5 L1974.1,3771.5 L1975.3,3771.5 L1976.5,3771.5 L1977.7,3771.5 L1978.9,3771.5 L1980.1,3771.5 L1981.3,3771.5 L1982.5,3771.5 L1983.7,3771.5 L1984.9,3771.5 L1986.0,3771.5 L1987.2,3771.5 L1988.4,3771.5 L1989.6,3771.5 L1990.8,3771.5 L1992.0,3771.5 L1993.2,3771.5 L1994.4,3771.5 L1995.6,3771.5 L1996.8,3771.5 L1998.0,3771.5 L1999.2,3771.5 L2000.4,3771.5 L2001.5,3771.5 L2002.7,3771.5 L2003.9,3771.5 L2005.1,3771.5 L2006.3,3771.5 L2007.5,3771.5 L2008.7,3771.5 L2009.9,3771.5 L2011.1,3771.5 L2012.3,3771.5 L2013.5,3771.5 L2014.7,3771.5 L2015.8,3771.5 L2017.0,3771.5 L2018.2,3771.5 L2019.4,3771.5 L2020.6,3771.5 L2021.8,3771.5 L2023.0,3771.5 L2024.2,3771.5 L2025.4,3771.5 L2026.6,3771.5 L2027.8,3771.5 L2029.0,3771.5 L2030.2,3771.5 L2031.3,3771.5 L2032.5,3771.5 L2033.7,3771.5 L2034.9,3771.5 L2036.1,3771.5 L2037.3,3771.5 L2038.5,3771.5 L2039.7,3771.5 L2040.9,3771.5 L2042.1,3771.5 L2043.3,3771.5 L2044.5,3771.5 L2045.6,3771.5 L2046.8,3771.5 L2048.0,3771.5 L2049.2,3771.5 L2050.4,3771.5 L2051.6,3771.5 L2052.8,3771.5 L2054.0,3771.5 L2055.2,3771.5 L2056.4,3771.5 L2057.6,3771.5 L2058.8,3771.5 L2060.0,3771.5 L2061.1,3771.5 L2062.3,3771.5 L2063.5,3771.5 L2064.7,3771.5 L2065.9,3771.5 L2067.1,3771.5 L2068.3,3771.5 L2069.5,3771.5 L2070.7,3771.5 L2071.9,3771.5 L2073.1,3771.5 L2074.3,3771.5 L2075.4,3771.5 L2076.6,3771.5 L2077.8,3771.5 L2079.0,3771.5 L2080.2,3771.5 L2081.4,3771.5 L2082.6,3771.5 L2083.8,3771.5 L2085.0,3771.5 L2086.2,3771.5 L2087.4,3771.5 L2088.6,3771.5 L2089.8,3771.5 L2090.9,3771.5 L2092.1,3771.5 L2093.3,3771.5 L2094.5,3771.5 L2095.7,3771.5 L2096.9,3771.5 L2098.1,3771.5 L2099.3,3771.5 L2100.5,3771.5 L2101.7,3771.5 L2102.9,3771.5 L2104.1,3771.5 L2105.2,3771.5 L2106.4,3771.5 L2107.6,3771.5 L2108.8,3771.5 L2110.0,3771.5 L2111.2,3771.5 L2112.4,3771.5 L2113.6,3771.5 L2114.8,3771.5 L2116.0,3771.5 L2117.2,3771.5 L2118.4,3771.5 L2119.6,3771.5 L2120.7,3771.5 L2121.9,3771.5 L2123.1,3771.5 L2124.3,3771.5 L2125.5,3771.5 L2126.7,3771.5 L2127.9,3771.5 L2129.1,3771.5 L2130.3,3771.5 L2131.5,3771.5 L2132.7,3771.5 L2133.9,3771.5 L2135.0,3771.5 L2136.2,3771.5 L2137.4,3771.5 L2138.6,3771.5 L2139.8,3771.5 L2141.0,3771.5 L2142.2,3771.5 L2143.4,3771.5 L2144.6,3771.5 L2145.8,3771.5 L2147.0,3771.5 L2148.2,3771.5 L2149.4,3771.5 L2150.5,3771.5 L2151.7,3771.5 L2152.9,3771.5 L2154.1,3771.5 L2155.3,3771.5 L2156.5,3771.5 L2157.7,3771.5 L2158.9,3771.5 L2160.1,3771.5 L2161.3,3771.5 L2162.5,3771.5 L2163.7,3771.5 L2164.8,3771.5 L2166.0,3771.5 L2167.2,3771.5 L2168.4,3771.5 L2169.6,3771.5 L2170.8,3771.5 L2172.0,3771.5 L2173.2,3771.5 L2174.4,3771.5 L2175.6,3771.5 L2176.8,3771.5 L2178.0,3771.5 L2179.2,3771.5 L2180.3,3771.5 L2181.5,3771.5 L2182.7,3771.5 L2183.9,3771.5 L2185.1,3771.5 L2186.3,3771.5 L2187.5,3771.5 L2188.7,3771.5 L2189.9,3771.5 L2191.1,3771.5 L2192.3,3771.5 L2193.5,3771.5 L2194.6,3771.5 L2195.8,3771.5 L2197.0,3771.5 L2198.2,3771.5 L2199.4,3771.5 L2200.6,3771.5 L2201.8,3771.5" stroke="#808080" stroke-width="5.4"/>
<path d="M413.8,3769.7 L415.0,3769.7 L416.2,3769.6 L417.4,3769.6 L418.6,3769.5 L419.8,3769.5 L421.0,3769.5 L422.1,3769.4 L423.3,3769.4 L424.5,3769.4 L425.7,3769.3 L426.9,3769.3 L428.1,3769.2 L429.3,3769.2 L430.5,3769.2 L431.7,3769.1 L432.9,3769.1 L434.1,3769.0 L435.3,3769.0 L436.4,3768.9 L437.6,3768.9 L438.8,3768.9 L440.0,3768.8 L441.2,3768.8 L442.4,3768.7 L443.6,3768.7 L444.8,3768.6 L446.0,3768.6 L447.2,3768.5 L448.4,3768.5 L449.6,3768.4 L450.8,3768.3 L451.9,3768.3 L453.1,3768.2 L454.3,3768.2 L455.5,3768.1 L456.7,3768.1 L457.9,3768.0 L459.1,3767.9 L460.3,3767.9 L461.5,3767.8 L462.7,3767.8 L463.9,3767.7 L465.1,3767.6 L466.2,3767.6 L467.4,3767.5 L468.6,3767.4 L469.8,3767.3 L471.0,3767.3 L472.2,3767.2 L473.4,3767.1 L474.6,3767.1 L475.8,3767.0 L477.0,3766.9 L478.2,3766.8 L479.4,3766.7 L480.6,3766.7 L481.7,3766.6 L482.9,3766.5 L484.1,3766.4 L485.3,3766.3 L486.5,3766.2 L487.7,3766.2 L488.9,3766.1 L490.1,3766.0 L491.3,3765.9 L492.5,3765.8 L493.7,3765.7 L494.9,3765.6 L496.0,3765.5 L497.2,3765.4 L498.4,3765.3 L499.6,3765.2 L500.8,3765.1 L502.0,3765.0 L503.2,3764.9 L504.4,3764.8 L505.6,3764.6 L506.8,3764.5 L508.0,3764.4 L509.2,3764.3 L510.4,3764.2 L511.5,3764.1 L512.7,3763.9 L513.9,3763.8 L515.1,3763.7 L516.3,3763.6 L517.5,3763.4 L518.7,3763.3 L519.9,3763.2 L521.1,3763.0 L522.3,3762.9 L523.5,3762.8 L524.7,3762.6 L525.8,3762.5 L527.0,3762.3 L528.2,3762.2 L529.4,3762.1 L530.6,3761.9 L531.8,3761.7 L533.0,3761.6 L534.2,3761.4 L535.4,3761.3 L536.6,3761.1 L537.8,3761.0 L539.0,3760.8 L540.2,3760.6 L541.3,3760.4 L542.5,3760.3 L543.7,3760.1 L544.9,3759.9 L546.1,3759.7 L547.3,3759.6 L548.5,3759.4 L549.7,3759.2 L550.9,3759.0 L552.1,3758.8 L553.3,3758.6 L554.5,3758.4 L555.6,3758.2 L556.8,3758.0 L558.0,3757.8 L559.2,3757.6 L560.4,3757.4 L561.6,3757.1 L562.8,3756.9 L564.0,3756.7 L565.2,3756.5 L566.4,3756.3 L567.6,3756.0 L568.8,3755.8 L570.0,3755.5 L571.1,3755.3 L572.3,3755.1 L573.5,3754.8 L574.7,3754.6 L575.9,3754.3 L577.1,3754.1 L578.3,3753.8 L579.5,3753.5 L580.7,3753.3 L581.9,3753.0 L583.1,3752.7 L584.3,3752.4 L585.4,3752.2 L586.6,3751.9 L587.8,3751.6 L589.0,3751.3 L590.2,3751.0 L591.4,3750.7 L592.6,3750.4 L593.8,3750.1 L595.0,3749.8 L596.2,3749.4 L597.4,3749.1 L598.6,3748.8 L599.8,3748.5 L600.9,3748.1 L602.1,3747.8 L603.3,3747.5 L604.5,3747.1 L605.7,3746.8 L606.9,3746.4 L608.1,3746.0 L609.3,3745.7 L610.5,3745.3 L611.7,3744.9 L612.9,3744.6 L614.1,3744.2 L615.2,3743.8 L616.4,3743.4 L617.6,3743.0 L618.8,3742.6 L620.0,3742.2 L621.2,3741.8 L622.4,3741.4 L623.6,3740.9 L624.8,3740.5 L626.0,3740.1 L627.2,3739.6 L628.4,3739.2 L629.6,3738.7 L630.7,3738.3 L631.9,3737.8 L633.1,3737.4 L634.3,3736.9 L635.5,3736.4 L636.7,3735.9 L637.9,3735.5 L639.1,3735.0 L640.3,3734.5 L641.5,3734.0 L642.7,3733.4 L643.9,3732.9 L645.0,3732.4 L646.2,3731.9 L647.4,3731.3 L648.6,3730.8 L649.8,3730.2 L651.0,3729.7 L652.2,3729.1 L653.4,3728.6 L654.6,3728.0 L655.8,3727.4 L657.0,3726.8 L658.2,3726.2 L659.4,3725.6 L660.5,3725.0 L661.7,3724.4 L662.9,3723.8 L664.1,3723.2 L665.3,3722.5 L666.5,3721.9 L667.7,3721.2 L668.9,3720.6 L670.1,3719.9 L671.3,3719.2 L672.5,3718.5 L673.7,3717.9 L674.8,3717.2 L676.0,3716.5 L677.2,3715.8 L678.4,3715.0 L679.6,3714.3 L680.8,3713.6 L682.0,3712.8 L683.2,3712.1 L684.4,3711.3 L685.6,3710.6 L686.8,3709.8 L688.0,3709.0 L689.2,3708.2 L690.3,3707.4 L691.5,3706.6 L692.7,3705.8 L693.9,3705.0 L695.1,3704.1 L696.3,3703.3 L697.5,3702.4 L698.7,3701.6 L699.9,3700.7 L701.1,3699.8 L702.3,3698.9 L703.5,3698.0 L704.6,3697.1 L705.8,3696.2 L707.0,3695.3 L708.2,3694.4 L709.4,3693.4 L710.6,3692.5 L711.8,3691.5 L713.0,3690.5 L714.2,3689.5 L715.4,3688.6 L716.6,3687.6 L717.8,3686.5 L719.0,3685.5 L720.1,3684.5 L721.3,3683.4 L722.5,3682.4 L723.7,3681.3 L724.9,3680.2 L726.1,3679.2 L727.3,3678.1 L728.5,3677.0 L729.7,3675.8 L730.9,3674.7 L732.1,3673.6 L733.3,3672.4 L734.4,3671.3 L735.6,3670.1 L736.8,3668.9 L738.0,3667.7 L739.2,3666.5 L740.4,3665.3 L741.6,3664.1 L742.8,3662.8 L744.0,3661.6 L745.2,3660.3 L746.4,3659.0 L747.6,3657.7 L748.8,3656.4 L749.9,3655.1 L751.1,3653.8 L752.3,3652.5 L753.5,3651.1 L754.7,3649.8 L755.9,3648.4 L757.1,3647.0 L758.3,3645.6 L759.5,3644.2 L760.7,3642.8 L761.9,3641.3 L763.1,3639.9 L764.2,3638.4 L765.4,3636.9 L766.6,3635.5 L767.8,3634.0 L769.0,3632.4 L770.2,3630.9 L771.4,3629.4 L772.6,3627.8 L773.8,3626.3 L775.0,3624.7 L776.2,3623.1 L777.4,3621.5 L778.6,3619.8 L779.7,3618.2 L780.9,3616.6 L782.1,3614.9 L783.3,3613.2 L784.5,3611.5 L785.7,3609.8 L786.9,3608.1 L788.1,3606.4 L789.3,3604.6 L790.5,3602.9 L791.7,3601.1 L792.9,3599.3 L794.0,3597.5 L795.2,3595.7 L796.4,3593.8 L797.6,3592.0 L798.8,3590.1 L800.0,3588.2 L801.2,3586.3 L802.4,3584.4 L803.6,3582.5 L804.8,3580.5 L806.0,3578.6 L807.2,3576.6 L808.4,3574.6 L809.5,3572.6 L810.7,3570.6 L811.9,3568.6 L813.1,3566.5 L814.3,3564.5 L815.5,3562.4 L816.7,3560.3 L817.9,3558.2 L819.1,3556.0 L820.3,3553.9 L821.5,3551.7 L822.7,3549.6 L823.8,3547.4 L825.0,3545.2 L826.2,3542.9 L827.4,3540.7 L828.6,3538.4 L829.8,3536.2 L831.0,3533.9 L832.2,3531.6 L833.4,3529.3 L834.6,3526.9 L835.8,3524.6 L837.0,3522.2 L838.2,3519.8 L839.3,3517.4 L840.5,3515.0 L841.7,3512.5 L842.9,3510.1 L844.1,3507.6 L845.3,3505.1 L846.5,3502.6 L847.7,3500.1 L848.9,3497.5 L850.1,3495.0 L851.3,3492.4 L852.5,3489.8 L853.6,3487.2 L854.8,3484.6 L856.0,3481.9 L857.2,3479.3 L858.4,3476.6 L859.6,3473.9 L860.8,3471.2 L862.0,3468.5 L863.2,3465.7 L864.4,3462.9 L865.6,3460.2 L866.8,3457.4 L868.0,3454.5 L869.1,3451.7 L870.3,3448.8 L871.5,3446.0 L872.7,3443.1 L873.9,3440.2 L875.1,3437.3 L876.3,3434.3 L877.5,3431.4 L878.7,3428.4 L879.9,3425.4 L881.1,3422.4 L882.3,3419.4 L883.4,3416.3 L884.6,3413.2 L885.8,3410.2 L887.0,3407.1 L888.2,3403.9 L889.4,3400.8 L890.6,3397.7 L891.8,3394.5 L893.0,3391.3 L894.2,3388.1 L895.4,3384.9 L896.6,3381.6 L897.8,3378.4 L898.9,3375.1 L900.1,3371.8 L901.3,3368.5 L902.5,3365.2 L903.7,3361.8 L904.9,3358.5 L906.1,3355.1 L907.3,3351.7 L908.5,3348.3 L909.7,3344.8 L910.9,3341.4 L912.1,3337.9 L913.2,3334.4 L914.4,3330.9 L915.6,3327.4 L916.8,3323.9 L918.0,3320.3 L919.2,3316.7 L920.4,3313.2 L921.6,3309.6 L922.8,3305.9 L924.0,3302.3 L925.2,3298.6 L926.4,3295.0 L927.6,3291.3 L928.7,3287.6 L929.9,3283.8 L931.1,3280.1 L932.3,3276.3 L933.5,3272.6 L934.7,3268.8 L935.9,3265.0 L937.1,3261.2 L938.3,3257.3 L939.5,3253.5 L940.7,3249.6 L941.9,3245.7 L943.0,3241.8 L944.2,3237.9 L945.4,3233.9 L946.6,3230.0 L947.8,3226.0 L949.0,3222.0 L950.2,3218.0 L951.4,3214.0 L952.6,3210.0 L953.8,3205.9 L955.0,3201.9 L956.2,3197.8 L957.4,3193.7 L958.5,3189.6 L959.7,3185.5 L960.9,3181.4 L962.1,3177.2 L963.3,3173.0 L964.5,3168.9 L965.7,3164.7 L966.9,3160.5 L968.1,3156.2 L969.3,3152.0 L970.5,3147.7 L971.7,3143.5 L972.8,3139.2 L974.0,3134.9 L975.2,3130.6 L976.4,3126.3 L977.6,3121.9 L978.8,3117.6 L980.0,3113.2 L981.2,3108.9 L982.4,3104.5 L983.6,3100.1 L984.8,3095.7 L986.0,3091.3 L987.2,3086.8 L988.3,3082.4 L989.5,3077.9 L990.7,3073.4 L991.9,3069.0 L993.1,3064.5 L994.3,3060.0 L995.5,3055.4 L996.7,3050.9 L997.9,3046.4 L999.1,3041.8 L1000.3,3037.3 L1001.5,3032.7 L1002.6,3028.1 L1003.8,3023.5 L1005.0,3018.9 L1006.2,3014.3 L1007.4,3009.7 L1008.6,3005.1 L1009.8,3000.4 L1011.0,2995.8 L1012.2,2991.1 L1013.4,2986.4 L1014.6,2981.8 L1015.8,2977.1 L1017.0,2972.4 L1018.1,2967.7 L1019.3,2963.0 L1020.5,2958.3 L1021.7,2953.5 L1022.9,2948.8 L1024.1,2944.1 L1025.3,2939.3 L1026.5,2934.6 L1027.7,2929.8 L1028.9,2925.0 L1030.1,2920.3 L1031.3,2915.5 L1032.4,2910.7 L1033.6,2905.9 L1034.8,2901.1 L1036.0,2896.3 L1037.2,2891.5 L1038.4,2886.7 L1039.6,2881.9 L1040.8,2877.1 L1042.0,2872.2 L1043.2,2867.4 L1044.4,2862.6 L1045.6,2857.7 L1046.8,2852.9 L1047.9,2848.1 L1049.1,2843.2 L1050.3,2838.4 L1051.5,2833.5 L1052.7,2828.7 L1053.9,2823.8 L1055.1,2818.9 L1056.3,2814.1 L1057.5,2809.2 L1058.7,2804.4 L1059.9,2799.5 L1061.1,2794.6 L1062.2,2789.8 L1063.4,2784.9 L1064.6,2780.1 L1065.8,2775.2 L1067.0,2770.3 L1068.2,2765.5 L1069.4,2760.6 L1070.6,2755.7 L1071.8,2750.9 L1073.0,2746.0 L1074.2,2741.2 L1075.4,2736.3 L1076.6,2731.5 L1077.7,2726.6 L1078.9,2721.8 L1080.1,2716.9 L1081.3,2712.1 L1082.5,2707.3 L1083.7,2702.4 L1084.9,2697.6 L1086.1,2692.8 L1087.3,2688.0 L1088.5,2683.2 L1089.7,2678.4 L1090.9,2673.5 L1092.0,2668.8 L1093.2,2664.0 L1094.4,2659.2 L1095.6,2654.4 L1096.8,2649.6 L1098.0,2644.9 L1099.2,2640.1 L1100.4,2635.4 L1101.6,2630.6 L1102.8,2625.9 L1104.0,2621.2 L1105.2,2616.5 L1106.4,2611.7 L1107.5,2607.0 L1108.7,2602.4 L1109.9,2597.7 L1111.1,2593.0 L1112.3,2588.4 L1113.5,2583.7 L1114.7,2579.1 L1115.9,2574.4 L1117.1,2569.8 L1118.3,2565.2 L1119.5,2560.6 L1120.7,2556.1 L1121.8,2551.5 L1123.0,2546.9 L1124.2,2542.4 L1125.4,2537.9 L1126.6,2533.3 L1127.8,2528.8 L1129.0,2524.4 L1130.2,2519.9 L1131.4,2515.4 L1132.6,2511.0 L1133.8,2506.6 L1135.0,2502.1 L1136.2,2497.7 L1137.3,2493.4 L1138.5,2489.0 L1139.7,2484.6 L1140.9,2480.3 L1142.1,2476.0 L1143.3,2471.7 L1144.5,2467.4 L1145.7,2463.2 L1146.9,2458.9 L1148.1,2454.7 L1149.3,2450.5 L1150.5,2446.3 L1151.6,2442.1 L1152.8,2438.0 L1154.0,2433.8 L1155.2,2429.7 L1156.4,2425.6 L1157.6,2421.5 L1158.8,2417.5 L1160.0,2413.5 L1161.2,2409.5 L1162.4,2405.5 L1163.6,2401.5 L1164.8,2397.6 L1166.0,2393.6 L1167.1,2389.7 L1168.3,2385.9 L1169.5,2382.0 L1170.7,2378.2 L1171.9,2374.4 L1173.1,2370.6 L1174.3,2366.8 L1175.5,2363.1 L1176.7,2359.4 L1177.9,2355.7 L1179.1,2352.0 L1180.3,2348.4 L1181.4,2344.8 L1182.6,2341.2 L1183.8,2337.6 L1185.0,2334.1 L1186.2,2330.6 L1187.4,2327.1 L1188.6,2323.6 L1189.8,2320.2 L1191.0,2316.8 L1192.2,2313.4 L1193.4,2310.1 L1194.6,2306.8 L1195.8,2303.5 L1196.9,2300.2 L1198.1,2297.0 L1199.3,2293.8 L1200.5,2290.6 L1201.7,2287.5 L1202.9,2284.4 L1204.1,2281.3 L1205.3,2278.2 L1206.5,2275.2 L1207.7,2272.2 L1208.9,2269.2 L1210.1,2266.3 L1211.2,2263.4 L1212.4,2260.5 L1213.6,2257.7 L1214.8,2254.9 L1216.0,2252.1 L1217.2,2249.4 L1218.4,2246.6 L1219.6,2244.0 L1220.8,2241.3 L1222.0,2238.7 L1223.2,2236.1 L1224.4,2233.6 L1225.6,2231.0 L1226.7,2228.6 L1227.9,2226.1 L1229.1,2223.7 L1230.3,2221.3 L1231.5,2219.0 L1232.7,2216.7 L1233.9,2214.4 L1235.1,2212.1 L1236.3,2209.9 L1237.5,2207.7 L1238.7,2205.6 L1239.9,2203.5 L1241.0,2201.4 L1242.2,2199.4 L1243.4,2197.4 L1244.6,2195.4 L1245.8,2193.5 L1247.0,2191.6 L1248.2,2189.8 L1249.4,2187.9 L1250.6,2186.2 L1251.8,2184.4 L1253.0,2182.7 L1254.2,2181.0 L1255.4,2179.4 L1256.5,2177.8 L1257.7,2176.2 L1258.9,2174.7 L1260.1,2173.2 L1261.3,2171.8 L1262.5,2170.4 L1263.7,2169.0 L1264.9,2167.7 L1266.1,2166.4 L1267.3,2165.1 L1268.5,2163.9 L1269.7,2162.7 L1270.8,2161.6 L1272.0,2160.5 L1273.2,2159.4 L1274.4,2158.4 L1275.6,2157.4 L1276.8,2156.4 L1278.0,2155.5 L1279.2,2154.6 L1280.4,2153.8 L1281.6,2153.0 L1282.8,2152.2 L1284.0,2151.5 L1285.2,2150.8 L1286.3,2150.2 L1287.5,2149.6 L1288.7,2149.0 L1289.9,2148.5 L1291.1,2148.0 L1292.3,2147.6 L1293.5,2147.2 L1294.7,2146.8 L1295.9,2146.5 L1297.1,2146.2 L1298.3,2146.0 L1299.5,2145.7 L1300.6,2145.6 L1301.8,2145.4 L1303.0,2145.4 L1304.2,2145.3 L1305.4,2145.3 L1306.6,2145.3 L1307.8,2145.4 L1309.0,2145.5 L1310.2,2145.7 L1311.4,2145.8 L1312.6,2146.1 L1313.8,2146.3 L1315.0,2146.6 L1316.1,2147.0 L1317.3,2147.3 L1318.5,2147.8 L1319.7,2148.2 L1320.9,2148.7 L1322.1,2149.3 L1323.3,2149.8 L1324.5,2150.4 L1325.7,2151.1 L1326.9,2151.8 L1328.1,2152.5 L1329.3,2153.3 L1330.4,2154.1 L1331.6,2154.9 L1332.8,2155.8 L1334.0,2156.7 L1335.2,2157.7 L1336.4,2158.7 L1337.6,2159.7 L1338.8,2160.8 L1340.0,2161.9 L1341.2,2163.0 L1342.4,2164.2 L1343.6,2165.4 L1344.8,2166.7 L1345.9,2168.0 L1347.1,2169.3 L1348.3,2170.7 L1349.5,2172.1 L1350.7,2173.6 L1351.9,2175.0 L1353.1,2176.6 L1354.3,2178.1 L1355.5,2179.7 L1356.7,2181.3 L1357.9,2183.0 L1359.1,2184.7 L1360.2,2186.4 L1361.4,2188.2 L1362.6,2190.0 L1363.8,2191.9 L1365.0,2193.8 L1366.2,2195.7 L1367.4,2197.6 L1368.6,2199.6 L1369.8,2201.6 L1371.0,2203.7 L1372.2,2205.8 L1373.4,2207.9 L1374.6,2210.1 L1375.7,2212.3 L1376.9,2214.5 L1378.1,2216.8 L1379.3,2219.1 L1380.5,2221.4 L1381.7,2223.8 L1382.9,2226.2 L1384.1,2228.6 L1385.3,2231.1 L1386.5,2233.6 L1387.7,2236.1 L1388.9,2238.7 L1390.0,2241.2 L1391.2,2243.9 L1392.4,2246.5 L1393.6,2249.2 L1394.8,2252.0 L1396.0,2254.7 L1397.2,2257.5 L1398.4,2260.3 L1399.6,2263.2 L1400.8,2266.0 L1402.0,2269.0 L1403.2,2271.9 L1404.4,2274.9 L1405.5,2277.9 L1406.7,2280.9 L1407.9,2283.9 L1409.1,2287.0 L1410.3,2290.2 L1411.5,2293.3 L1412.7,2296.5 L1413.9,2299.7 L1415.1,2302.9 L1416.3,2306.2 L1417.5,2309.5 L1418.7,2312.8 L1419.8,2316.1 L1421.0,2319.5 L1422.2,2322.9 L1423.4,2326.3 L1424.6,2329.8 L1425.8,2333.2 L1427.0,2336.7 L1428.2,2340.3 L1429.4,2343.8 L1430.6,2347.4 L1431.8,2351.0 L1433.0,2354.6 L1434.2,2358.3 L1435.3,2362.0 L1436.5,2365.7 L1437.7,2369.4 L1438.9,2373.1 L1440.1,2376.9 L1441.3,2380.7 L1442.5,2384.5 L1443.7,2388.4 L1444.9,2392.2 L1446.1,2396.1 L1447.3,2400.0 L1448.5,2403.9 L1449.6,2407.9 L1450.8,2411.9 L1452.0,2415.9 L1453.2,2419.9 L1454.4,2423.9 L1455.6,2428.0 L1456.8,2432.0 L1458.0,2436.1 L1459.2,2440.2 L1460.4,2444.4 L1461.6,2448.5 L1462.8,2452.7 L1464.0,2456.9 L1465.1,2461.1 L1466.3,2465.3 L1467.5,2469.6 L1468.7,2473.8 L1469.9,2478.1 L1471.1,2482.4 L1472.3,2486.7 L1473.5,2491.0 L1474.7,2495.4 L1475.9,2499.7 L1477.1,2504.1 L1478.3,2508.5 L1479.4,2512.9 L1480.6,2517.3 L1481.8,2521.7 L1483.0,2526.2 L1484.2,2530.6 L1485.4,2535.1 L1486.6,2539.6 L1487.8,2544.1 L1489.0,2548.6 L1490.2,2553.1 L1491.4,2557.7 L1492.6,2562.2 L1493.8,2566.8 L1494.9,2571.4 L1496.1,2575.9 L1497.3,2580.5 L1498.5,2585.1 L1499.7,2589.8 L1500.9,2594.4 L1502.1,2599.0 L1503.3,2603.7 L1504.5,2608.3 L1505.7,2613.0 L1506.9,2617.7 L1508.1,2622.3 L1509.2,2627.0 L1510.4,2631.7 L1511.6,2636.4 L1512.8,2641.2 L1514.0,2645.9 L1515.2,2650.6 L1516.4,2655.4 L1517.6,2660.1 L1518.8,2664.8 L1520.0,2669.6 L1521.2,2674.4 L1522.4,2679.1 L1523.6,2683.9 L1524.7,2688.7 L1525.9,2693.5 L1527.1,2698.2 L1528.3,2703.0 L1529.5,2707.8 L1530.7,2712.6 L1531.9,2717.4 L1533.1,2722.2 L1534.3,2727.1 L1535.5,2731.9 L1536.7,2736.7 L1537.9,2741.5 L1539.0,2746.3 L1540.2,2751.1 L1541.4,2756.0 L1542.6,2760.8 L1543.8,2765.6 L1545.0,2770.4 L1546.2,2775.3 L1547.4,2780.1 L1548.6,2784.9 L1549.8,2789.7 L1551.0,2794.6 L1552.2,2799.4 L1553.4,2804.2 L1554.5,2809.1 L1555.7,2813.9 L1556.9,2818.7 L1558.1,2823.5 L1559.3,2828.3 L1560.5,2833.2 L1561.7,2838.0 L1562.9,2842.8 L1564.1,2847.6 L1565.3,2852.4 L1566.5,2857.2 L1567.7,2862.0 L1568.8,2866.8 L1570.0,2871.6 L1571.2,2876.4 L1572.4,2881.2 L1573.6,2886.0 L1574.8,2890.7 L1576.0,2895.5 L1577.2,2900.3 L1578.4,2905.0 L1579.6,2909.8 L1580.8,2914.5 L1582.0,2919.3 L1583.2,2924.0 L1584.3,2928.8 L1585.5,2933.5 L1586.7,2938.2 L1587.9,2942.9 L1589.1,2947.6 L1590.3,2952.3 L1591.5,2957.0 L1592.7,2961.7 L1593.9,2966.4 L1595.1,2971.0 L1596.3,2975.7 L1597.5,2980.4 L1598.6,2985.0 L1599.8,2989.6 L1601.0,2994.3 L1602.2,2998.9 L1603.4,3003.5 L1604.6,3008.1 L1605.8,3012.7 L1607.0,3017.3 L1608.2,3021.8 L1609.4,3026.4 L1610.6,3031.0 L1611.8,3035.5 L1613.0,3040.0 L1614.1,3044.5 L1615.3,3049.1 L1616.5,3053.6 L1617.7,3058.0 L1618.9,3062.5 L1620.1,3067.0 L1621.3,3071.4 L1622.5,3075.9 L1623.7,3080.3 L1624.9,3084.7 L1626.1,3089.1 L1627.3,3093.5 L1628.4,3097.9 L1629.6,3102.3 L1630.8,3106.7 L1632.0,3111.0 L1633.2,3115.3 L1634.4,3119.7 L1635.6,3124.0 L1636.8,3128.3 L1638.0,3132.5 L1639.2,3136.8 L1640.4,3141.1 L1641.6,3145.3 L1642.8,3149.5 L1643.9,3153.7 L1645.1,3157.9 L1646.3,3162.1 L1647.5,3166.3 L1648.7,3170.5 L1649.9,3174.6 L1651.1,3178.7 L1652.3,3182.8 L1653.5,3186.9 L1654.7,3191.0 L1655.9,3195.1 L1657.1,3199.2 L1658.2,3203.2 L1659.4,3207.2 L1660.6,3211.2 L1661.8,3215.2 L1663.0,3219.2 L1664.2,3223.2 L1665.4,3227.1 L1666.6,3231.1 L1667.8,3235.0 L1669.0,3238.9 L1670.2,3242.8 L1671.4,3246.6 L1672.6,3250.5 L1673.7,3254.3 L1674.9,3258.2 L1676.1,3262.0 L1677.3,3265.8 L1678.5,3269.5 L1679.7,3273.3 L1680.9,3277.0 L1682.1,3280.8 L1683.3,3284.5 L1684.5,3288.2 L1685.7,3291.8 L1686.9,3295.5 L1688.0,3299.2 L1689.2,3302.8 L1690.4,3306.4 L1691.6,3310.0 L1692.8,3313.6 L1694.0,3317.1 L1695.2,3320.7 L1696.4,3324.2 L1697.6,3327.7 L1698.8,3331.2 L1700.0,3334.7 L1701.2,3338.1 L1702.4,3341.6 L1703.5,3345.0 L1704.7,3348.4 L1705.9,3351.8 L1707.1,3355.2 L1708.3,3358.5 L1709.5,3361.9 L1710.7,3365.2 L1711.9,3368.5 L1713.1,3371.8 L1714.3,3375.0 L1715.5,3378.3 L1716.7,3381.5 L1717.8,3384.7 L1719.0,3387.9 L1720.2,3391.1 L1721.4,3394.3 L1722.6,3397.4 L1723.8,3400.6 L1725.0,3403.7 L1726.2,3406.8 L1727.4,3409.9 L1728.6,3412.9 L1729.8,3416.0 L1731.0,3419.0 L1732.2,3422.0 L1733.3,3425.0 L1734.5,3428.0 L1735.7,3430.9 L1736.9,3433.8 L1738.1,3436.8 L1739.3,3439.7 L1740.5,3442.6 L1741.7,3445.4 L1742.9,3448.3 L1744.1,3451.1 L1745.3,3453.9 L1746.5,3456.7 L1747.6,3459.5 L1748.8,3462.3 L1750.0,3465.0 L1751.2,3467.8 L1752.4,3470.5 L1753.6,3473.2 L1754.8,3475.9 L1756.0,3478.5 L1757.2,3481.2 L1758.4,3483.8 L1759.6,3486.4 L1760.8,3489.0 L1762.0,3491.6 L1763.1,3494.2 L1764.3,3496.7 L1765.5,3499.2 L1766.7,3501.7 L1767.9,3504.2 L1769.1,3506.7 L1770.3,3509.2 L1771.5,3511.6 L1772.7,3514.0 L1773.9,3516.5 L1775.1,3518.8 L1776.3,3521.2 L1777.4,3523.6 L1778.6,3525.9 L1779.8,3528.3 L1781.0,3530.6 L1782.2,3532.9 L1783.4,3535.2 L1784.6,3537.4 L1785.8,3539.7 L1787.0,3541.9 L1788.2,3544.1 L1789.4,3546.3 L1790.6,3548.5 L1791.8,3550.7 L1792.9,3552.8 L1794.1,3555.0 L1795.3,3557.1 L1796.5,3559.2 L1797.7,3561.3 L1798.9,3563.3 L1800.1,3565.4 L1801.3,3567.4 L1802.5,3569.5 L1803.7,3571.5 L1804.9,3573.5 L1806.1,3575.5 L1807.2,3577.4 L1808.4,3579.4 L1809.6,3581.3 L1810.8,3583.2 L1812.0,3585.1 L1813.2,3587.0 L1814.4,3588.9 L1815.6,3590.8 L1816.8,3592.6 L1818.0,3594.4 L1819.2,3596.3 L1820.4,3598.1 L1821.6,3599.9 L1822.7,3601.6 L1823.9,3603.4 L1825.1,3605.1 L1826.3,3606.9 L1827.5,3608.6 L1828.7,3610.3 L1829.9,3612.0 L1831.1,3613.7 L1832.3,3615.3 L1833.5,3617.0 L1834.7,3618.6 L1835.9,3620.2 L1837.0,3621.8 L1838.2,3623.4 L1839.4,3625.0 L1840.6,3626.6 L1841.8,3628.1 L1843.0,3629.7 L1844.2,3631.2 L1845.4,3632.7 L1846.6,3634.2 L1847.8,3635.7 L1849.0,3637.2 L1850.2,3638.6 L1851.4,3640.1 L1852.5,3641.5 L1853.7,3642.9 L1854.9,3644.3 L1856.1,3645.7 L1857.3,3647.1 L1858.5,3648.5 L1859.7,3649.9 L1860.9,3651.2 L1862.1,3652.6 L1863.3,3653.9 L1864.5,3655.2 L1865.7,3656.5 L1866.8,3657.8 L1868.0,3659.1 L1869.2,3660.3 L1870.4,3661.6 L1871.6,3662.8 L1872.8,3664.1 L1874.0,3665.3 L1875.2,3666.5 L1876.4,3667.7 L1877.6,3668.9 L1878.8,3670.1 L1880.0,3671.2 L1881.2,3672.4 L1882.3,3673.5 L1883.5,3674.6 L1884.7,3675.8 L1885.9,3676.9 L1887.1,3678.0 L1888.3,3679.1 L1889.5,3680.1 L1890.7,3681.2 L1891.9,3682.3 L1893.1,3683.3 L1894.3,3684.3 L1895.5,3685.4 L1896.6,3686.4 L1897.8,3687.4 L1899.0,3688.4 L1900.2,3689.4 L1901.4,3690.4 L1902.6,3691.3 L1903.8,3692.3 L1905.0,3693.2 L1906.2,3694.2 L1907.4,3695.1 L1908.6,3696.0 L1909.8,3696.9 L1911.0,3697.8 L1912.1,3698.7 L1913.3,3699.6 L1914.5,3700.5 L1915.7,3701.4 L1916.9,3702.2 L1918.1,3703.1 L1919.3,3703.9 L1920.5,3704.7 L1921.7,3705.5 L1922.9,3706.4 L1924.1,3707.2 L1925.3,3708.0 L1926.4,3708.7 L1927.6,3709.5 L1928.8,3710.3 L1930.0,3711.1 L1931.2,3711.8 L1932.4,3712.6 L1933.6,3713.3 L1934.8,3714.0 L1936.0,3714.8 L1937.2,3715.5 L1938.4,3716.2 L1939.6,3716.9 L1940.8,3717.6 L1941.9,3718.3 L1943.1,3718.9 L1944.3,3719.6 L1945.5,3720.3 L1946.7,3720.9 L1947.9,3721.6 L1949.1,3722.2 L1950.3,3722.9 L1951.5,3723.5 L1952.7,3724.1 L1953.9,3724.7 L1955.1,3725.3 L1956.2,3725.9 L1957.4,3726.5 L1958.6,3727.1 L1959.8,3727.7 L1961.0,3728.3 L1962.2,3728.8 L1963.4,3729.4 L1964.6,3729.9 L1965.8,3730.5 L1967.0,3731.0 L1968.2,3731.6 L1969.4,3732.1 L1970.6,3732.6 L1971.7,3733.1 L1972.9,3733.6 L1974.1,3734.1 L1975.3,3734.6 L1976.5,3735.1 L1977.7,3735.6 L1978.9,3736.1 L1980.1,3736.6 L1981.3,3737.1 L1982.5,3737.5 L1983.7,3738.0 L1984.9,3738.4 L1986.0,3738.9 L1987.2,3739.3 L1988.4,3739.8 L1989.6,3740.2 L1990.8,3740.6 L1992.0,3741.0 L1993.2,3741.5 L1994.4,3741.9 L1995.6,3742.3 L1996.8,3742.7 L1998.0,3743.1 L1999.2,3743.5 L2000.4,3743.9 L2001.5,3744.3 L2002.7,3744.6 L2003.9,3745.0 L2005.1,3745.4 L2006.3,3745.7 L2007.5,3746.1 L2008.7,3746.5 L2009.9,3746.8 L2011.1,3747.2 L2012.3,3747.5 L2013.5,3747.8 L2014.7,3748.2 L2015.8,3748.5 L2017.0,3748.8 L2018.2,3749.2 L2019.4,3749.5 L2020.6,3749.8 L2021.8,3750.1 L2023.0,3750.4 L2024.2,3750.7 L2025.4,3751.0 L2026.6,3751.3 L2027.8,3751.6 L2029.0,3751.9 L2030.2,3752.2 L2031.3,3752.4 L2032.5,3752.7 L2033.7,3753.0 L2034.9,3753.3 L2036.1,3753.5 L2037.3,3753.8 L2038.5,3754.0 L2039.7,3754.3 L2040.9,3754.6 L2042.1,3754.8 L2043.3,3755.1 L2044.5,3755.3 L2045.6,3755.5 L2046.8,3755.8 L2048.0,3756.0 L2049.2,3756.2 L2050.4,3756.5 L2051.6,3756.7 L2052.8,3756.9 L2054.0,3757.1 L2055.2,3757.3 L2056.4,3757.5 L2057.6,3757.8 L2058.8,3758.0 L2060.0,3758.2 L2061.1,3758.4 L2062.3,3758.6 L2063.5,3758.8 L2064.7,3759.0 L2065.9,3759.1 L2067.1,3759.3 L2068.3,3759.5 L2069.5,3759.7 L2070.7,3759.9 L2071.9,3760.1 L2073.1,3760.2 L2074.3,3760.4 L2075.4,3760.6 L2076.6,3760.7 L2077.8,3760.9 L2079.0,3761.1 L2080.2,3761.2 L2081.4,3761.4 L2082.6,3761.5 L2083.8,3761.7 L2085.0,3761.9 L2086.2,3762.0 L2087.4,3762.2 L2088.6,3762.3 L2089.8,3762.4 L2090.9,3762.6 L2092.1,3762.7 L2093.3,3762.9 L2094.5,3763.0 L2095.7,3763.1 L2096.9,3763.3 L2098.1,3763.4 L2099.3,3763.5 L2100.5,3763.6 L2101.7,3763.8 L2102.9,3763.9 L2104.1,3764.0 L2105.2,3764.1 L2106.4,3764.3 L2107.6,3764.4 L2108.8,3764.5 L2110.0,3764.6 L2111.2,3764.7 L2112.4,3764.8 L2113.6,3764.9 L2114.8,3765.0 L2116.0,3765.1 L2117.2,3765.2 L2118.4,3765.3 L2119.6,3765.4 L2120.7,3765.5 L2121.9,3765.6 L2123.1,3765.7 L2124.3,3765.8 L2125.5,3765.9 L2126.7,3766.0 L2127.9,3766.1 L2129.1,3766.2 L2130.3,3766.3 L2131.5,3766.4 L2132.7,3766.4 L2133.9,3766.5 L2135.0,3766.6 L2136.2,3766.7 L2137.4,3766.8 L2138.6,3766.9 L2139.8,3766.9 L2141.0,3767.0 L2142.2,3767.1 L2143.4,3767.2 L2144.6,3767.2 L2145.8,3767.3 L2147.0,3767.4 L2148.2,3767.4 L2149.4,3767.5 L2150.5,3767.6 L2151.7,3767.6 L2152.9,3767.7 L2154.1,3767.8 L2155.3,3767.8 L2156.5,3767.9 L2157.7,3768.0 L2158.9,3768.0 L2160.1,3768.1 L2161.3,3768.1 L2162.5,3768.2 L2163.7,3768.2 L2164.8,3768.3 L2166.0,3768.4 L2167.2,3768.4 L2168.4,3768.5 L2169.6,3768.5 L2170.8,3768.6 L2172.0,3768.6 L2173.2,3768.7 L2174.4,3768.7 L2175.6,3768.8 L2176.8,3768.8 L2178.0,3768.9 L2179.2,3768.9 L2180.3,3769.0 L2181.5,3769.0 L2182.7,3769.0 L2183.9,3769.1 L2185.1,3769.1 L2186.3,3769.2 L2187.5,3769.2 L2188.7,3769.2 L2189.9,3769.3 L2191.1,3769.3 L2192.3,3769.4 L2193.5,3769.4 L2194.6,3769.4 L2195.8,3769.5 L2197.0,3769.5 L2198.2,3769.5 L2199.4,3769.6 L2200.6,3769.6 L2201.8,3769.7" stroke="#a3a3a3" stroke-width="5.6"/>
</g>
<text transform="translate(412.8,3894.2) scale(1,1.0407)" text-anchor="middle" class="td">-5</text>
<g clip-path="url(#k1)"><text transform="translate(1129.5,3894.2) scale(1,1.0407)" text-anchor="middle" class="td">-1</text></g>
<text transform="translate(1306.8,3894.2) scale(1,1.0407)" text-anchor="middle" class="td">0</text>
<g clip-path="url(#k2)"><text transform="translate(1488.1,3894.2) scale(1,1.0407)" text-anchor="middle" class="td">1</text></g>
<text transform="translate(2200.8,3894.2) scale(1,1.0407)" text-anchor="middle" class="td">5</text>
<text transform="translate(387.0,3807.3) scale(1,1.0407)" text-anchor="end" class="td">0</text>
<text transform="translate(387.0,3482.5) scale(1,1.0407)" text-anchor="end" class="td">0.2</text>
<text transform="translate(387.0,3157.7) scale(1,1.0407)" text-anchor="end" class="td">0.4</text>
<text transform="translate(387.0,2832.9) scale(1,1.0407)" text-anchor="end" class="td">0.6</text>
<text transform="translate(387.0,2508.1) scale(1,1.0407)" text-anchor="end" class="td">0.8</text>
<g clip-path="url(#k3)"><text transform="translate(390.0,2183.3) scale(1,1.0407)" text-anchor="end" class="td">1</text></g>
<text transform="translate(1340.0,4029.0) scale(1,1.02)" text-anchor="middle" class="ld">Pulse Time (ps)</text>
<text transform="translate(201.9,2976.0) rotate(-90) scale(1,1.02)" text-anchor="middle" class="ld2">Normalized to Peak Intensity</text>
<text transform="translate(462.0,2588.0) scale(1,1.02)" class="an">Without control</text>
<text transform="translate(1361.3,3177.4) scale(1,1.04)" class="an">S+C</text>
<text transform="translate(1339.8,3669.3) scale(1,1.02)" class="an">Input</text>
</svg>
</body></html>
